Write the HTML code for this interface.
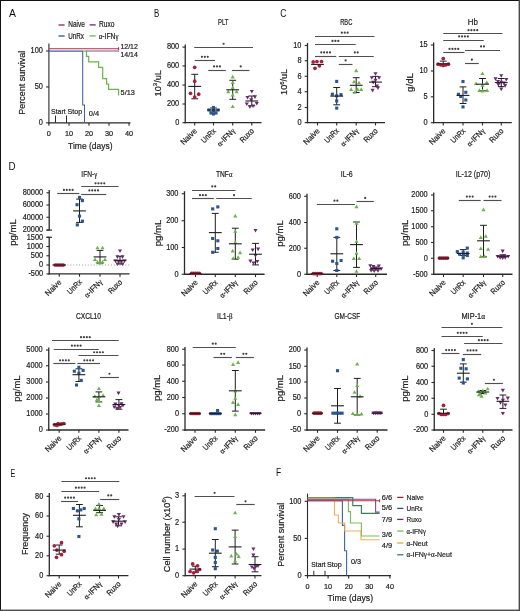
<!DOCTYPE html><html><head><meta charset="utf-8"><title>Figure</title><style>html,body{margin:0;padding:0;background:#fff;width:520px;height:611px;overflow:hidden}svg{display:block;will-change:transform;font-family:"Liberation Sans", sans-serif}text{stroke:#222;stroke-width:0.2px}text.pl{stroke:none}</style></head><body>
<svg width="520" height="611" viewBox="0 0 520 611">
<rect width="520" height="611" fill="#fff"/>
<text transform="translate(8.95 16.6) scale(0.9674 1)" font-size="10.8" fill="#111" class="pl">A</text>
<text transform="translate(154.05 16.5) scale(0.7380 1)" font-size="10.8" fill="#111" class="pl">B</text>
<text transform="translate(280.25 16.7) scale(0.7845 1)" font-size="10.8" fill="#111" class="pl">C</text>
<text transform="translate(8.55 169.9) scale(0.9131 1)" font-size="10.8" fill="#111" class="pl">D</text>
<text transform="translate(10.55 476.5) scale(0.6544 1)" font-size="10.8" fill="#111" class="pl">E</text>
<text transform="translate(276.05 476.4) scale(0.7893 1)" font-size="10.8" fill="#111" class="pl">F</text>
<line x1="58.5" y1="25" x2="64.6" y2="25" stroke="#ab1d3b" stroke-width="1.3"/>
<text transform="translate(68.2 27.1) scale(0.7923 1)" font-size="8.2" fill="#222">Naive</text>
<line x1="89.6" y1="24.9" x2="95.7" y2="24.9" stroke="#6b2b6e" stroke-width="1.3"/>
<text transform="translate(99 27.1) scale(0.8095 1)" font-size="8.2" fill="#222">Ruxo</text>
<line x1="58.5" y1="36" x2="64.6" y2="36" stroke="#2a5592" stroke-width="1.3"/>
<text transform="translate(68.2 38.6) scale(0.7707 1)" font-size="8.2" fill="#222">UnRx</text>
<line x1="89.6" y1="35.9" x2="95.7" y2="35.9" stroke="#6cb24d" stroke-width="1.3"/>
<text transform="translate(98.8 38.6) scale(0.8238 1)" font-size="8.2" fill="#222"><tspan font-family="Liberation Serif">&#945;</tspan>-IFN<tspan font-family="Liberation Serif">&#947;</tspan></text>
<line x1="48.9" y1="43.6" x2="48.9" y2="123.45" stroke="#2a2a2a" stroke-width="1.1"/>
<line x1="48.35" y1="122.9" x2="130.5" y2="122.9" stroke="#2a2a2a" stroke-width="1.1"/>
<line x1="46.1" y1="51" x2="48.9" y2="51" stroke="#2a2a2a" stroke-width="1.1"/>
<text x="42.9" y="53.35" font-size="8.4" text-anchor="end" fill="#222" textLength="12.33" lengthAdjust="spacingAndGlyphs">100</text>
<line x1="46.1" y1="86.95" x2="48.9" y2="86.95" stroke="#2a2a2a" stroke-width="1.1"/>
<text x="42.9" y="89.3" font-size="8.4" text-anchor="end" fill="#222" textLength="8.22" lengthAdjust="spacingAndGlyphs">50</text>
<line x1="46.1" y1="122.9" x2="48.9" y2="122.9" stroke="#2a2a2a" stroke-width="1.1"/>
<text x="42.9" y="125.25" font-size="8.4" text-anchor="end" fill="#222" textLength="4.11" lengthAdjust="spacingAndGlyphs">0</text>
<line x1="48.9" y1="122.9" x2="48.9" y2="125.7" stroke="#2a2a2a" stroke-width="1.1"/>
<text x="48.9" y="135.8" font-size="7.3" text-anchor="middle" fill="#222">0</text>
<line x1="69" y1="122.9" x2="69" y2="125.7" stroke="#2a2a2a" stroke-width="1.1"/>
<text x="69" y="135.8" font-size="7.3" text-anchor="middle" fill="#222">10</text>
<line x1="89" y1="122.9" x2="89" y2="125.7" stroke="#2a2a2a" stroke-width="1.1"/>
<text x="89" y="135.8" font-size="7.3" text-anchor="middle" fill="#222">20</text>
<line x1="109" y1="122.9" x2="109" y2="125.7" stroke="#2a2a2a" stroke-width="1.1"/>
<text x="109" y="135.8" font-size="7.3" text-anchor="middle" fill="#222">30</text>
<line x1="129" y1="122.9" x2="129" y2="125.7" stroke="#2a2a2a" stroke-width="1.1"/>
<text x="129" y="135.8" font-size="7.3" text-anchor="middle" fill="#222">40</text>
<text x="90.3" y="148.7" font-size="9.2" text-anchor="middle" fill="#222" textLength="44.5" lengthAdjust="spacingAndGlyphs">Time (days)</text>
<text transform="translate(24.7 82.7) rotate(-90)" x="0" y="0" font-size="9.2" text-anchor="middle" fill="#222" textLength="64" lengthAdjust="spacingAndGlyphs">Percent survival</text>
<path d="M49 51.1H82.7V105H84.5V122.9" fill="none" stroke="#3f63a0" stroke-width="1.05"/>
<path d="M86 50.9H118.6V51.8" fill="none" stroke="#7d5588" stroke-width="1.05"/>
<path d="M49 48.8H118.6M118.6 47.3V50" fill="none" stroke="#bb2d47" stroke-width="1.1"/>
<path d="M83.2 51.1H86.5V56.3H88.7V61.9H98.6V67.3H102.7V78.6H106.6V84.2H108.6V89.3H118.6V95.5" fill="none" stroke="#6cb24d" stroke-width="1.2"/>
<line x1="55.5" y1="115.5" x2="55.5" y2="122.9" stroke="#2a2a2a" stroke-width="1"/>
<line x1="66.5" y1="115.5" x2="66.5" y2="122.9" stroke="#2a2a2a" stroke-width="1"/>
<text x="51.1" y="113.5" font-size="7.6" text-anchor="start" fill="#222" textLength="14.6" lengthAdjust="spacingAndGlyphs">Start</text>
<text x="67.5" y="113.5" font-size="7.6" text-anchor="start" fill="#222" textLength="14.6" lengthAdjust="spacingAndGlyphs">Stop</text>
<text x="88.8" y="115.7" font-size="7.6" text-anchor="start" fill="#222" textLength="10.4" lengthAdjust="spacingAndGlyphs">0/4</text>
<text x="120.4" y="48.9" font-size="7.3" text-anchor="start" fill="#222" textLength="17.5" lengthAdjust="spacingAndGlyphs">12/12</text>
<text x="120.4" y="56.5" font-size="7.3" text-anchor="start" fill="#222" textLength="17.5" lengthAdjust="spacingAndGlyphs">14/14</text>
<text x="120.6" y="95.3" font-size="7.6" text-anchor="start" fill="#222" textLength="14.2" lengthAdjust="spacingAndGlyphs">5/13</text>
<line x1="185.25" y1="44.4" x2="185.25" y2="123.35" stroke="#2a2a2a" stroke-width="1.3"/>
<line x1="184.6" y1="122.7" x2="261.5" y2="122.7" stroke="#2a2a2a" stroke-width="1.3"/>
<line x1="182.45" y1="47.1" x2="185.25" y2="47.1" stroke="#2a2a2a" stroke-width="1.1"/>
<text x="179.25" y="49.45" font-size="8.4" text-anchor="end" fill="#222" textLength="12.33" lengthAdjust="spacingAndGlyphs">800</text>
<line x1="182.45" y1="65.9" x2="185.25" y2="65.9" stroke="#2a2a2a" stroke-width="1.1"/>
<text x="179.25" y="68.25" font-size="8.4" text-anchor="end" fill="#222" textLength="12.33" lengthAdjust="spacingAndGlyphs">600</text>
<line x1="182.45" y1="85" x2="185.25" y2="85" stroke="#2a2a2a" stroke-width="1.1"/>
<text x="179.25" y="87.35" font-size="8.4" text-anchor="end" fill="#222" textLength="12.33" lengthAdjust="spacingAndGlyphs">400</text>
<line x1="182.45" y1="104" x2="185.25" y2="104" stroke="#2a2a2a" stroke-width="1.1"/>
<text x="179.25" y="106.35" font-size="8.4" text-anchor="end" fill="#222" textLength="12.33" lengthAdjust="spacingAndGlyphs">200</text>
<line x1="182.45" y1="122.7" x2="185.25" y2="122.7" stroke="#2a2a2a" stroke-width="1.1"/>
<text x="179.25" y="125.05" font-size="8.4" text-anchor="end" fill="#222" textLength="4.11" lengthAdjust="spacingAndGlyphs">0</text>
<line x1="194.7" y1="122.7" x2="194.7" y2="125.5" stroke="#2a2a2a" stroke-width="1.1"/>
<text transform="translate(197.5 131.5) rotate(-45)" x="0" y="0" font-size="8" text-anchor="end" fill="#222" textLength="19.5" lengthAdjust="spacingAndGlyphs">Naive</text>
<line x1="213.5" y1="122.7" x2="213.5" y2="125.5" stroke="#2a2a2a" stroke-width="1.1"/>
<text transform="translate(216.3 131.5) rotate(-45)" x="0" y="0" font-size="8" text-anchor="end" fill="#222" textLength="17" lengthAdjust="spacingAndGlyphs">UnRx</text>
<line x1="232.7" y1="122.7" x2="232.7" y2="125.5" stroke="#2a2a2a" stroke-width="1.1"/>
<text transform="translate(235.5 131.5) rotate(-45)" x="0" y="0" font-size="8" text-anchor="end" fill="#222" textLength="22" lengthAdjust="spacingAndGlyphs"><tspan font-family="Liberation Serif">&#945;</tspan>-IFN<tspan font-family="Liberation Serif">&#947;</tspan></text>
<line x1="251.8" y1="122.7" x2="251.8" y2="125.5" stroke="#2a2a2a" stroke-width="1.1"/>
<text transform="translate(254.6 131.5) rotate(-45)" x="0" y="0" font-size="8" text-anchor="end" fill="#222" textLength="16.5" lengthAdjust="spacingAndGlyphs">Ruxo</text>
<text transform="translate(218 24.6) scale(0.7188 1)" font-size="8.3" fill="#222" class="tt">PLT</text>
<text transform="translate(160.5 83.2) rotate(-90)" x="0" y="0" font-size="9.2" text-anchor="middle" fill="#222" textLength="26.4" lengthAdjust="spacingAndGlyphs">10<tspan font-size="6" dy="-3.4">3</tspan><tspan dy="3.4">/uL</tspan></text>
<line x1="194.2" y1="47.5" x2="253" y2="47.5" stroke="#505050" stroke-width="1.15"/>
<circle cx="223.6" cy="43.75" r="1.1" fill="#404040"/>
<line x1="194.7" y1="60.5" x2="215" y2="60.5" stroke="#505050" stroke-width="1.15"/>
<circle cx="201.95" cy="56.85" r="1.1" fill="#404040"/>
<circle cx="204.85" cy="56.85" r="1.1" fill="#404040"/>
<circle cx="207.75" cy="56.85" r="1.1" fill="#404040"/>
<line x1="208.2" y1="70.5" x2="225.8" y2="70.5" stroke="#505050" stroke-width="1.15"/>
<circle cx="214.1" cy="66.45" r="1.1" fill="#404040"/>
<circle cx="217" cy="66.45" r="1.1" fill="#404040"/>
<circle cx="219.9" cy="66.45" r="1.1" fill="#404040"/>
<line x1="231.9" y1="70.5" x2="249.5" y2="70.5" stroke="#505050" stroke-width="1.15"/>
<circle cx="240.7" cy="66.45" r="1.1" fill="#404040"/>
<line x1="194.7" y1="74.3" x2="194.7" y2="98.8" stroke="#1e1e1e" stroke-width="1"/>
<line x1="191.3" y1="74.3" x2="198.1" y2="74.3" stroke="#1e1e1e" stroke-width="1"/>
<line x1="191.3" y1="98.8" x2="198.1" y2="98.8" stroke="#1e1e1e" stroke-width="1"/>
<line x1="213.5" y1="108" x2="213.5" y2="112" stroke="#1e1e1e" stroke-width="1"/>
<line x1="210.1" y1="108" x2="216.9" y2="108" stroke="#1e1e1e" stroke-width="1"/>
<line x1="210.1" y1="112" x2="216.9" y2="112" stroke="#1e1e1e" stroke-width="1"/>
<line x1="232.7" y1="80.3" x2="232.7" y2="99.3" stroke="#1e1e1e" stroke-width="1"/>
<line x1="229.3" y1="80.3" x2="236.1" y2="80.3" stroke="#1e1e1e" stroke-width="1"/>
<line x1="229.3" y1="99.3" x2="236.1" y2="99.3" stroke="#1e1e1e" stroke-width="1"/>
<line x1="251.8" y1="96" x2="251.8" y2="105.8" stroke="#1e1e1e" stroke-width="1"/>
<line x1="248.4" y1="96" x2="255.2" y2="96" stroke="#1e1e1e" stroke-width="1"/>
<line x1="248.4" y1="105.8" x2="255.2" y2="105.8" stroke="#1e1e1e" stroke-width="1"/>
<circle cx="194.7" cy="67.3" r="1.85" fill="#ab1d3b"/>
<circle cx="194.7" cy="81.2" r="1.85" fill="#ab1d3b"/>
<circle cx="190.5" cy="93.3" r="1.85" fill="#ab1d3b"/>
<circle cx="198.7" cy="94.2" r="1.85" fill="#ab1d3b"/>
<circle cx="194.7" cy="97.1" r="1.85" fill="#ab1d3b"/>
<rect x="211.95" y="105.95" width="3.1" height="3.1" fill="#2a5592"/>
<rect x="207.45" y="108.45" width="3.1" height="3.1" fill="#2a5592"/>
<rect x="216.45" y="108.45" width="3.1" height="3.1" fill="#2a5592"/>
<rect x="211.95" y="108.95" width="3.1" height="3.1" fill="#2a5592"/>
<rect x="209.45" y="111.45" width="3.1" height="3.1" fill="#2a5592"/>
<rect x="214.45" y="111.45" width="3.1" height="3.1" fill="#2a5592"/>
<rect x="211.95" y="112.45" width="3.1" height="3.1" fill="#2a5592"/>
<path d="M232.7 74.8L234.75 78.4L230.65 78.4Z" fill="#6cb24d"/>
<path d="M232.7 80.4L234.75 84L230.65 84Z" fill="#6cb24d"/>
<path d="M232.7 85.6L234.75 89.2L230.65 89.2Z" fill="#6cb24d"/>
<path d="M228.3 89.6L230.35 93.2L226.25 93.2Z" fill="#6cb24d"/>
<path d="M236.6 89.6L238.65 93.2L234.55 93.2Z" fill="#6cb24d"/>
<path d="M232.7 93L234.75 96.6L230.65 96.6Z" fill="#6cb24d"/>
<path d="M232.7 104.5L234.75 108.1L230.65 108.1Z" fill="#6cb24d"/>
<path d="M251.8 93.6L253.85 90L249.75 90Z" fill="#6b2b6e"/>
<path d="M247.5 99.5L249.55 95.9L245.45 95.9Z" fill="#6b2b6e"/>
<path d="M255 98.9L257.05 95.3L252.95 95.3Z" fill="#6b2b6e"/>
<path d="M251.2 101.75L253.25 98.15L249.15 98.15Z" fill="#6b2b6e"/>
<path d="M246.8 106L248.85 102.4L244.75 102.4Z" fill="#6b2b6e"/>
<path d="M256.8 105.5L258.85 101.9L254.75 101.9Z" fill="#6b2b6e"/>
<path d="M249.9 108.9L251.95 105.3L247.85 105.3Z" fill="#6b2b6e"/>
<path d="M253 108L255.05 104.4L250.95 104.4Z" fill="#6b2b6e"/>
<line x1="188.3" y1="86.4" x2="201.1" y2="86.4" stroke="#1e1e1e" stroke-width="1.1"/>
<line x1="207.1" y1="110" x2="219.9" y2="110" stroke="#1e1e1e" stroke-width="1.1"/>
<line x1="226.3" y1="89.8" x2="239.1" y2="89.8" stroke="#1e1e1e" stroke-width="1.1"/>
<line x1="245.4" y1="101" x2="258.2" y2="101" stroke="#1e1e1e" stroke-width="1.1"/>
<line x1="307.5" y1="43" x2="307.5" y2="123.25" stroke="#2a2a2a" stroke-width="1.3"/>
<line x1="306.85" y1="122.6" x2="385" y2="122.6" stroke="#2a2a2a" stroke-width="1.3"/>
<line x1="304.7" y1="45.5" x2="307.5" y2="45.5" stroke="#2a2a2a" stroke-width="1.1"/>
<text x="301.5" y="47.85" font-size="8.4" text-anchor="end" fill="#222" textLength="8.22" lengthAdjust="spacingAndGlyphs">10</text>
<line x1="304.7" y1="60.75" x2="307.5" y2="60.75" stroke="#2a2a2a" stroke-width="1.1"/>
<text x="301.5" y="63.1" font-size="8.4" text-anchor="end" fill="#222" textLength="4.11" lengthAdjust="spacingAndGlyphs">8</text>
<line x1="304.7" y1="76.25" x2="307.5" y2="76.25" stroke="#2a2a2a" stroke-width="1.1"/>
<text x="301.5" y="78.6" font-size="8.4" text-anchor="end" fill="#222" textLength="4.11" lengthAdjust="spacingAndGlyphs">6</text>
<line x1="304.7" y1="91.75" x2="307.5" y2="91.75" stroke="#2a2a2a" stroke-width="1.1"/>
<text x="301.5" y="94.1" font-size="8.4" text-anchor="end" fill="#222" textLength="4.11" lengthAdjust="spacingAndGlyphs">4</text>
<line x1="304.7" y1="107.5" x2="307.5" y2="107.5" stroke="#2a2a2a" stroke-width="1.1"/>
<text x="301.5" y="109.85" font-size="8.4" text-anchor="end" fill="#222" textLength="4.11" lengthAdjust="spacingAndGlyphs">2</text>
<line x1="304.7" y1="122.6" x2="307.5" y2="122.6" stroke="#2a2a2a" stroke-width="1.1"/>
<text x="301.5" y="124.95" font-size="8.4" text-anchor="end" fill="#222" textLength="4.11" lengthAdjust="spacingAndGlyphs">0</text>
<line x1="317.5" y1="122.6" x2="317.5" y2="125.4" stroke="#2a2a2a" stroke-width="1.1"/>
<text transform="translate(320.3 131.4) rotate(-45)" x="0" y="0" font-size="8" text-anchor="end" fill="#222" textLength="19.5" lengthAdjust="spacingAndGlyphs">Naive</text>
<line x1="336.7" y1="122.6" x2="336.7" y2="125.4" stroke="#2a2a2a" stroke-width="1.1"/>
<text transform="translate(339.5 131.4) rotate(-45)" x="0" y="0" font-size="8" text-anchor="end" fill="#222" textLength="17" lengthAdjust="spacingAndGlyphs">UnRx</text>
<line x1="356.2" y1="122.6" x2="356.2" y2="125.4" stroke="#2a2a2a" stroke-width="1.1"/>
<text transform="translate(359 131.4) rotate(-45)" x="0" y="0" font-size="8" text-anchor="end" fill="#222" textLength="22" lengthAdjust="spacingAndGlyphs"><tspan font-family="Liberation Serif">&#945;</tspan>-IFN<tspan font-family="Liberation Serif">&#947;</tspan></text>
<line x1="375.5" y1="122.6" x2="375.5" y2="125.4" stroke="#2a2a2a" stroke-width="1.1"/>
<text transform="translate(378.3 131.4) rotate(-45)" x="0" y="0" font-size="8" text-anchor="end" fill="#222" textLength="16.5" lengthAdjust="spacingAndGlyphs">Ruxo</text>
<text transform="translate(340.2 24.6) scale(0.6909 1)" font-size="8.3" fill="#222" class="tt">RBC</text>
<text transform="translate(287.2 81.9) rotate(-90)" x="0" y="0" font-size="9.2" text-anchor="middle" fill="#222" textLength="26" lengthAdjust="spacingAndGlyphs">10<tspan font-size="6" dy="-3.4">6</tspan><tspan dy="3.4">/uL</tspan></text>
<line x1="315" y1="36.5" x2="374.5" y2="36.5" stroke="#505050" stroke-width="1.15"/>
<circle cx="341.85" cy="32.7" r="1.1" fill="#404040"/>
<circle cx="344.75" cy="32.7" r="1.1" fill="#404040"/>
<circle cx="347.65" cy="32.7" r="1.1" fill="#404040"/>
<line x1="315" y1="44.5" x2="355.75" y2="44.5" stroke="#505050" stroke-width="1.15"/>
<circle cx="332.48" cy="40.95" r="1.1" fill="#404040"/>
<circle cx="335.38" cy="40.95" r="1.1" fill="#404040"/>
<circle cx="338.28" cy="40.95" r="1.1" fill="#404040"/>
<line x1="315" y1="56.5" x2="336.25" y2="56.5" stroke="#505050" stroke-width="1.15"/>
<circle cx="321.27" cy="52.45" r="1.1" fill="#404040"/>
<circle cx="324.17" cy="52.45" r="1.1" fill="#404040"/>
<circle cx="327.07" cy="52.45" r="1.1" fill="#404040"/>
<circle cx="329.97" cy="52.45" r="1.1" fill="#404040"/>
<line x1="338.75" y1="56.5" x2="373.75" y2="56.5" stroke="#505050" stroke-width="1.15"/>
<circle cx="354.8" cy="52.45" r="1.1" fill="#404040"/>
<circle cx="357.7" cy="52.45" r="1.1" fill="#404040"/>
<line x1="338.75" y1="64.5" x2="352.5" y2="64.5" stroke="#505050" stroke-width="1.15"/>
<circle cx="345.62" cy="60.45" r="1.1" fill="#404040"/>
<line x1="336.7" y1="87.5" x2="336.7" y2="104.8" stroke="#1e1e1e" stroke-width="1"/>
<line x1="333.3" y1="87.5" x2="340.1" y2="87.5" stroke="#1e1e1e" stroke-width="1"/>
<line x1="333.3" y1="104.8" x2="340.1" y2="104.8" stroke="#1e1e1e" stroke-width="1"/>
<line x1="356.2" y1="77.7" x2="356.2" y2="92.5" stroke="#1e1e1e" stroke-width="1"/>
<line x1="352.8" y1="77.7" x2="359.6" y2="77.7" stroke="#1e1e1e" stroke-width="1"/>
<line x1="352.8" y1="92.5" x2="359.6" y2="92.5" stroke="#1e1e1e" stroke-width="1"/>
<line x1="375.5" y1="76.4" x2="375.5" y2="86.7" stroke="#1e1e1e" stroke-width="1"/>
<line x1="372.1" y1="76.4" x2="378.9" y2="76.4" stroke="#1e1e1e" stroke-width="1"/>
<line x1="372.1" y1="86.7" x2="378.9" y2="86.7" stroke="#1e1e1e" stroke-width="1"/>
<circle cx="313.2" cy="61.9" r="1.85" fill="#ab1d3b"/>
<circle cx="316.9" cy="61.5" r="1.85" fill="#ab1d3b"/>
<circle cx="321.5" cy="61.5" r="1.85" fill="#ab1d3b"/>
<circle cx="319.4" cy="65.8" r="1.85" fill="#ab1d3b"/>
<circle cx="315" cy="68.3" r="1.85" fill="#ab1d3b"/>
<rect x="335.15" y="79.85" width="3.1" height="3.1" fill="#2a5592"/>
<rect x="330.85" y="92.65" width="3.1" height="3.1" fill="#2a5592"/>
<rect x="335.15" y="94.25" width="3.1" height="3.1" fill="#2a5592"/>
<rect x="339.45" y="93.15" width="3.1" height="3.1" fill="#2a5592"/>
<rect x="335.15" y="99.35" width="3.1" height="3.1" fill="#2a5592"/>
<rect x="335.15" y="106.55" width="3.1" height="3.1" fill="#2a5592"/>
<path d="M356.2 68.6L358.25 72.2L354.15 72.2Z" fill="#6cb24d"/>
<path d="M354 79.7L356.05 83.3L351.95 83.3Z" fill="#6cb24d"/>
<path d="M359 80.7L361.05 84.3L356.95 84.3Z" fill="#6cb24d"/>
<path d="M351.2 87.3L353.25 90.9L349.15 90.9Z" fill="#6cb24d"/>
<path d="M357.6 87.3L359.65 90.9L355.55 90.9Z" fill="#6cb24d"/>
<path d="M361.2 87.3L363.25 90.9L359.15 90.9Z" fill="#6cb24d"/>
<path d="M354.7 90.2L356.75 93.8L352.65 93.8Z" fill="#6cb24d"/>
<path d="M375.5 75.8L377.55 72.2L373.45 72.2Z" fill="#6b2b6e"/>
<path d="M371.8 79.8L373.85 76.2L369.75 76.2Z" fill="#6b2b6e"/>
<path d="M379.1 79.8L381.15 76.2L377.05 76.2Z" fill="#6b2b6e"/>
<path d="M375.5 82.3L377.55 78.7L373.45 78.7Z" fill="#6b2b6e"/>
<path d="M373.2 84.4L375.25 80.8L371.15 80.8Z" fill="#6b2b6e"/>
<path d="M376.9 88L378.95 84.4L374.85 84.4Z" fill="#6b2b6e"/>
<path d="M372.6 92.4L374.65 88.8L370.55 88.8Z" fill="#6b2b6e"/>
<path d="M378 90L380.05 86.4L375.95 86.4Z" fill="#6b2b6e"/>
<line x1="311.1" y1="64.4" x2="323.9" y2="64.4" stroke="#1e1e1e" stroke-width="1.1"/>
<line x1="330.3" y1="96.1" x2="343.1" y2="96.1" stroke="#1e1e1e" stroke-width="1.1"/>
<line x1="349.8" y1="85.3" x2="362.6" y2="85.3" stroke="#1e1e1e" stroke-width="1.1"/>
<line x1="369.1" y1="82.1" x2="381.9" y2="82.1" stroke="#1e1e1e" stroke-width="1.1"/>
<line x1="433.65" y1="42.5" x2="433.65" y2="123.35" stroke="#2a2a2a" stroke-width="1.3"/>
<line x1="433" y1="122.7" x2="511.75" y2="122.7" stroke="#2a2a2a" stroke-width="1.3"/>
<line x1="430.85" y1="45" x2="433.65" y2="45" stroke="#2a2a2a" stroke-width="1.1"/>
<text x="427.65" y="47.35" font-size="8.4" text-anchor="end" fill="#222" textLength="8.22" lengthAdjust="spacingAndGlyphs">15</text>
<line x1="430.85" y1="71" x2="433.65" y2="71" stroke="#2a2a2a" stroke-width="1.1"/>
<text x="427.65" y="73.35" font-size="8.4" text-anchor="end" fill="#222" textLength="8.22" lengthAdjust="spacingAndGlyphs">10</text>
<line x1="430.85" y1="96.8" x2="433.65" y2="96.8" stroke="#2a2a2a" stroke-width="1.1"/>
<text x="427.65" y="99.15" font-size="8.4" text-anchor="end" fill="#222" textLength="4.11" lengthAdjust="spacingAndGlyphs">5</text>
<line x1="430.85" y1="122.7" x2="433.65" y2="122.7" stroke="#2a2a2a" stroke-width="1.1"/>
<text x="427.65" y="125.05" font-size="8.4" text-anchor="end" fill="#222" textLength="4.11" lengthAdjust="spacingAndGlyphs">0</text>
<line x1="443.25" y1="122.7" x2="443.25" y2="125.5" stroke="#2a2a2a" stroke-width="1.1"/>
<text transform="translate(446.05 131.5) rotate(-45)" x="0" y="0" font-size="8" text-anchor="end" fill="#222" textLength="19.5" lengthAdjust="spacingAndGlyphs">Naive</text>
<line x1="463" y1="122.7" x2="463" y2="125.5" stroke="#2a2a2a" stroke-width="1.1"/>
<text transform="translate(465.8 131.5) rotate(-45)" x="0" y="0" font-size="8" text-anchor="end" fill="#222" textLength="17" lengthAdjust="spacingAndGlyphs">UnRx</text>
<line x1="482.5" y1="122.7" x2="482.5" y2="125.5" stroke="#2a2a2a" stroke-width="1.1"/>
<text transform="translate(485.3 131.5) rotate(-45)" x="0" y="0" font-size="8" text-anchor="end" fill="#222" textLength="22" lengthAdjust="spacingAndGlyphs"><tspan font-family="Liberation Serif">&#945;</tspan>-IFN<tspan font-family="Liberation Serif">&#947;</tspan></text>
<line x1="501.25" y1="122.7" x2="501.25" y2="125.5" stroke="#2a2a2a" stroke-width="1.1"/>
<text transform="translate(504.05 131.5) rotate(-45)" x="0" y="0" font-size="8" text-anchor="end" fill="#222" textLength="16.5" lengthAdjust="spacingAndGlyphs">Ruxo</text>
<text transform="translate(467.7 24.6) scale(0.9507 1)" font-size="8.3" fill="#222" class="tt">Hb</text>
<text transform="translate(413.3 82.5) rotate(-90)" x="0" y="0" font-size="9.2" text-anchor="middle" fill="#222" textLength="18.8" lengthAdjust="spacingAndGlyphs">g/dL</text>
<line x1="443.25" y1="33.5" x2="502.5" y2="33.5" stroke="#505050" stroke-width="1.15"/>
<circle cx="468.52" cy="30.2" r="1.1" fill="#404040"/>
<circle cx="471.42" cy="30.2" r="1.1" fill="#404040"/>
<circle cx="474.32" cy="30.2" r="1.1" fill="#404040"/>
<circle cx="477.22" cy="30.2" r="1.1" fill="#404040"/>
<line x1="443.25" y1="40.5" x2="483.75" y2="40.5" stroke="#505050" stroke-width="1.15"/>
<circle cx="459.15" cy="36.45" r="1.1" fill="#404040"/>
<circle cx="462.05" cy="36.45" r="1.1" fill="#404040"/>
<circle cx="464.95" cy="36.45" r="1.1" fill="#404040"/>
<circle cx="467.85" cy="36.45" r="1.1" fill="#404040"/>
<line x1="443.25" y1="52.5" x2="464.5" y2="52.5" stroke="#505050" stroke-width="1.15"/>
<circle cx="449.52" cy="48.95" r="1.1" fill="#404040"/>
<circle cx="452.42" cy="48.95" r="1.1" fill="#404040"/>
<circle cx="455.32" cy="48.95" r="1.1" fill="#404040"/>
<circle cx="458.22" cy="48.95" r="1.1" fill="#404040"/>
<line x1="465" y1="50.5" x2="500" y2="50.5" stroke="#505050" stroke-width="1.15"/>
<circle cx="481.05" cy="46.45" r="1.1" fill="#404040"/>
<circle cx="483.95" cy="46.45" r="1.1" fill="#404040"/>
<line x1="465" y1="63.5" x2="478.75" y2="63.5" stroke="#505050" stroke-width="1.15"/>
<circle cx="471.88" cy="59.7" r="1.1" fill="#404040"/>
<line x1="443.25" y1="61.1" x2="443.25" y2="65.4" stroke="#1e1e1e" stroke-width="1"/>
<line x1="439.85" y1="61.1" x2="446.65" y2="61.1" stroke="#1e1e1e" stroke-width="1"/>
<line x1="439.85" y1="65.4" x2="446.65" y2="65.4" stroke="#1e1e1e" stroke-width="1"/>
<line x1="463" y1="86.9" x2="463" y2="103.5" stroke="#1e1e1e" stroke-width="1"/>
<line x1="459.6" y1="86.9" x2="466.4" y2="86.9" stroke="#1e1e1e" stroke-width="1"/>
<line x1="459.6" y1="103.5" x2="466.4" y2="103.5" stroke="#1e1e1e" stroke-width="1"/>
<line x1="482.5" y1="78.5" x2="482.5" y2="90.8" stroke="#1e1e1e" stroke-width="1"/>
<line x1="479.1" y1="78.5" x2="485.9" y2="78.5" stroke="#1e1e1e" stroke-width="1"/>
<line x1="479.1" y1="90.8" x2="485.9" y2="90.8" stroke="#1e1e1e" stroke-width="1"/>
<line x1="501.25" y1="78.5" x2="501.25" y2="86.6" stroke="#1e1e1e" stroke-width="1"/>
<line x1="497.85" y1="78.5" x2="504.65" y2="78.5" stroke="#1e1e1e" stroke-width="1"/>
<line x1="497.85" y1="86.6" x2="504.65" y2="86.6" stroke="#1e1e1e" stroke-width="1"/>
<circle cx="443.25" cy="58.5" r="1.85" fill="#ab1d3b"/>
<circle cx="438.05" cy="64.2" r="1.85" fill="#ab1d3b"/>
<circle cx="440.65" cy="64.8" r="1.85" fill="#ab1d3b"/>
<circle cx="443.25" cy="65.4" r="1.85" fill="#ab1d3b"/>
<circle cx="445.85" cy="64.8" r="1.85" fill="#ab1d3b"/>
<circle cx="448.45" cy="64.2" r="1.85" fill="#ab1d3b"/>
<rect x="461.45" y="79.95" width="3.1" height="3.1" fill="#2a5592"/>
<rect x="464.25" y="90.75" width="3.1" height="3.1" fill="#2a5592"/>
<rect x="456.85" y="92.75" width="3.1" height="3.1" fill="#2a5592"/>
<rect x="459.15" y="94.95" width="3.1" height="3.1" fill="#2a5592"/>
<rect x="464.25" y="98.45" width="3.1" height="3.1" fill="#2a5592"/>
<rect x="461.45" y="105.35" width="3.1" height="3.1" fill="#2a5592"/>
<path d="M482.5 71.5L484.55 75.1L480.45 75.1Z" fill="#6cb24d"/>
<path d="M476 81.5L478.05 85.1L473.95 85.1Z" fill="#6cb24d"/>
<path d="M486.8 80.3L488.85 83.9L484.75 83.9Z" fill="#6cb24d"/>
<path d="M482.5 83.1L484.55 86.7L480.45 86.7Z" fill="#6cb24d"/>
<path d="M479.4 88.3L481.45 91.9L477.35 91.9Z" fill="#6cb24d"/>
<path d="M487.1 88.3L489.15 91.9L485.05 91.9Z" fill="#6cb24d"/>
<path d="M482.5 88.8L484.55 92.4L480.45 92.4Z" fill="#6cb24d"/>
<path d="M501.25 77.8L503.3 74.2L499.2 74.2Z" fill="#6b2b6e"/>
<path d="M495.55 80.9L497.6 77.3L493.5 77.3Z" fill="#6b2b6e"/>
<path d="M506.35 81.5L508.4 77.9L504.3 77.9Z" fill="#6b2b6e"/>
<path d="M497.95 83.5L500 79.9L495.9 79.9Z" fill="#6b2b6e"/>
<path d="M501.25 84.3L503.3 80.7L499.2 80.7Z" fill="#6b2b6e"/>
<path d="M504.05 85L506.1 81.4L502 81.4Z" fill="#6b2b6e"/>
<path d="M498.35 86.6L500.4 83L496.3 83Z" fill="#6b2b6e"/>
<path d="M505.15 87.7L507.2 84.1L503.1 84.1Z" fill="#6b2b6e"/>
<path d="M501.25 91.2L503.3 87.6L499.2 87.6Z" fill="#6b2b6e"/>
<line x1="436.85" y1="63.8" x2="449.65" y2="63.8" stroke="#1e1e1e" stroke-width="1.1"/>
<line x1="456.6" y1="95.4" x2="469.4" y2="95.4" stroke="#1e1e1e" stroke-width="1.1"/>
<line x1="476.1" y1="84.2" x2="488.9" y2="84.2" stroke="#1e1e1e" stroke-width="1.1"/>
<line x1="494.85" y1="82.6" x2="507.65" y2="82.6" stroke="#1e1e1e" stroke-width="1.1"/>
<line x1="49.2" y1="190" x2="49.2" y2="230.1" stroke="#2a2a2a" stroke-width="1.3"/>
<line x1="49.2" y1="237.3" x2="49.2" y2="274.55" stroke="#2a2a2a" stroke-width="1.3"/>
<line x1="46.6" y1="230.1" x2="52" y2="230.1" stroke="#2a2a2a" stroke-width="1.2"/>
<line x1="46.6" y1="237.3" x2="52" y2="237.3" stroke="#2a2a2a" stroke-width="1.2"/>
<line x1="48.55" y1="273.9" x2="129.5" y2="273.9" stroke="#2a2a2a" stroke-width="1.3"/>
<line x1="46.4" y1="192.75" x2="49.2" y2="192.75" stroke="#2a2a2a" stroke-width="1.1"/>
<text x="43.2" y="195.1" font-size="8.4" text-anchor="end" fill="#222" textLength="20.56" lengthAdjust="spacingAndGlyphs">80000</text>
<line x1="46.4" y1="205" x2="49.2" y2="205" stroke="#2a2a2a" stroke-width="1.1"/>
<text x="43.2" y="207.35" font-size="8.4" text-anchor="end" fill="#222" textLength="20.56" lengthAdjust="spacingAndGlyphs">60000</text>
<line x1="46.4" y1="217.25" x2="49.2" y2="217.25" stroke="#2a2a2a" stroke-width="1.1"/>
<text x="43.2" y="219.6" font-size="8.4" text-anchor="end" fill="#222" textLength="20.56" lengthAdjust="spacingAndGlyphs">40000</text>
<line x1="46.4" y1="230.1" x2="49.2" y2="230.1" stroke="#2a2a2a" stroke-width="1.1"/>
<text x="43.2" y="232.45" font-size="8.4" text-anchor="end" fill="#222" textLength="20.56" lengthAdjust="spacingAndGlyphs">20000</text>
<line x1="46.4" y1="237.3" x2="49.2" y2="237.3" stroke="#2a2a2a" stroke-width="1.1"/>
<text x="43.2" y="239.65" font-size="8.4" text-anchor="end" fill="#222" textLength="16.44" lengthAdjust="spacingAndGlyphs">1500</text>
<line x1="46.4" y1="246.5" x2="49.2" y2="246.5" stroke="#2a2a2a" stroke-width="1.1"/>
<text x="43.2" y="248.85" font-size="8.4" text-anchor="end" fill="#222" textLength="16.44" lengthAdjust="spacingAndGlyphs">1000</text>
<line x1="46.4" y1="255.75" x2="49.2" y2="255.75" stroke="#2a2a2a" stroke-width="1.1"/>
<text x="43.2" y="258.1" font-size="8.4" text-anchor="end" fill="#222" textLength="12.33" lengthAdjust="spacingAndGlyphs">500</text>
<line x1="46.4" y1="265" x2="49.2" y2="265" stroke="#2a2a2a" stroke-width="1.1"/>
<text x="43.2" y="267.35" font-size="8.4" text-anchor="end" fill="#222" textLength="4.11" lengthAdjust="spacingAndGlyphs">0</text>
<line x1="46.4" y1="273.9" x2="49.2" y2="273.9" stroke="#2a2a2a" stroke-width="1.1"/>
<text x="43.2" y="276.25" font-size="8.4" text-anchor="end" fill="#222" textLength="14.8" lengthAdjust="spacingAndGlyphs">-500</text>
<line x1="59.25" y1="273.9" x2="59.25" y2="276.7" stroke="#2a2a2a" stroke-width="1.1"/>
<text transform="translate(62.05 282.7) rotate(-45)" x="0" y="0" font-size="8" text-anchor="end" fill="#222" textLength="19.5" lengthAdjust="spacingAndGlyphs">Naive</text>
<line x1="79.5" y1="273.9" x2="79.5" y2="276.7" stroke="#2a2a2a" stroke-width="1.1"/>
<text transform="translate(82.3 282.7) rotate(-45)" x="0" y="0" font-size="8" text-anchor="end" fill="#222" textLength="17" lengthAdjust="spacingAndGlyphs">UnRx</text>
<line x1="100" y1="273.9" x2="100" y2="276.7" stroke="#2a2a2a" stroke-width="1.1"/>
<text transform="translate(102.8 282.7) rotate(-45)" x="0" y="0" font-size="8" text-anchor="end" fill="#222" textLength="22" lengthAdjust="spacingAndGlyphs"><tspan font-family="Liberation Serif">&#945;</tspan>-IFN<tspan font-family="Liberation Serif">&#947;</tspan></text>
<line x1="120" y1="273.9" x2="120" y2="276.7" stroke="#2a2a2a" stroke-width="1.1"/>
<text transform="translate(122.8 282.7) rotate(-45)" x="0" y="0" font-size="8" text-anchor="end" fill="#222" textLength="16.5" lengthAdjust="spacingAndGlyphs">Ruxo</text>
<text transform="translate(81.3 177.1) scale(0.8032 1)" font-size="8.3" fill="#222" class="tt">IFN-<tspan font-family="Liberation Serif">&#947;</tspan></text>
<text transform="translate(16.4 232.5) rotate(-90)" x="0" y="0" font-size="9.2" text-anchor="middle" fill="#222" textLength="26.4" lengthAdjust="spacingAndGlyphs">pg/mL</text>
<line x1="64.6" y1="265" x2="129.3" y2="265" stroke="#8a8a8a" stroke-width="0.9" stroke-dasharray="0.9 2"/>
<line x1="57.2" y1="193.5" x2="79.3" y2="193.5" stroke="#505050" stroke-width="1.15"/>
<circle cx="63.9" cy="189.95" r="1.1" fill="#404040"/>
<circle cx="66.8" cy="189.95" r="1.1" fill="#404040"/>
<circle cx="69.7" cy="189.95" r="1.1" fill="#404040"/>
<circle cx="72.6" cy="189.95" r="1.1" fill="#404040"/>
<line x1="81.2" y1="186.5" x2="118.6" y2="186.5" stroke="#505050" stroke-width="1.15"/>
<circle cx="95.55" cy="183.35" r="1.1" fill="#404040"/>
<circle cx="98.45" cy="183.35" r="1.1" fill="#404040"/>
<circle cx="101.35" cy="183.35" r="1.1" fill="#404040"/>
<circle cx="104.25" cy="183.35" r="1.1" fill="#404040"/>
<line x1="81.2" y1="194.5" x2="106.25" y2="194.5" stroke="#505050" stroke-width="1.15"/>
<circle cx="89.38" cy="190.45" r="1.1" fill="#404040"/>
<circle cx="92.28" cy="190.45" r="1.1" fill="#404040"/>
<circle cx="95.17" cy="190.45" r="1.1" fill="#404040"/>
<circle cx="98.08" cy="190.45" r="1.1" fill="#404040"/>
<line x1="79.5" y1="199.1" x2="79.5" y2="222.4" stroke="#1e1e1e" stroke-width="1"/>
<line x1="76.1" y1="199.1" x2="82.9" y2="199.1" stroke="#1e1e1e" stroke-width="1"/>
<line x1="76.1" y1="222.4" x2="82.9" y2="222.4" stroke="#1e1e1e" stroke-width="1"/>
<line x1="100" y1="250.4" x2="100" y2="263.2" stroke="#1e1e1e" stroke-width="1"/>
<line x1="96.6" y1="250.4" x2="103.4" y2="250.4" stroke="#1e1e1e" stroke-width="1"/>
<line x1="96.6" y1="263.2" x2="103.4" y2="263.2" stroke="#1e1e1e" stroke-width="1"/>
<line x1="120" y1="256.3" x2="120" y2="264" stroke="#1e1e1e" stroke-width="1"/>
<line x1="116.6" y1="256.3" x2="123.4" y2="256.3" stroke="#1e1e1e" stroke-width="1"/>
<line x1="116.6" y1="264" x2="123.4" y2="264" stroke="#1e1e1e" stroke-width="1"/>
<circle cx="55.25" cy="265" r="1.85" fill="#ab1d3b"/>
<circle cx="57.25" cy="265" r="1.85" fill="#ab1d3b"/>
<circle cx="59.25" cy="265" r="1.85" fill="#ab1d3b"/>
<circle cx="61.25" cy="265" r="1.85" fill="#ab1d3b"/>
<circle cx="63.25" cy="265" r="1.85" fill="#ab1d3b"/>
<rect x="77.95" y="195.85" width="3.1" height="3.1" fill="#2a5592"/>
<rect x="80.85" y="199.05" width="3.1" height="3.1" fill="#2a5592"/>
<rect x="75.45" y="203.15" width="3.1" height="3.1" fill="#2a5592"/>
<rect x="77.95" y="214.55" width="3.1" height="3.1" fill="#2a5592"/>
<rect x="80.85" y="219.65" width="3.1" height="3.1" fill="#2a5592"/>
<rect x="75.75" y="223.35" width="3.1" height="3.1" fill="#2a5592"/>
<path d="M97.5 245.7L99.55 249.3L95.45 249.3Z" fill="#6cb24d"/>
<path d="M102.5 245.7L104.55 249.3L100.45 249.3Z" fill="#6cb24d"/>
<path d="M95 257.5L97.05 261.1L92.95 261.1Z" fill="#6cb24d"/>
<path d="M97.5 260L99.55 263.6L95.45 263.6Z" fill="#6cb24d"/>
<path d="M100 261L102.05 264.6L97.95 264.6Z" fill="#6cb24d"/>
<path d="M102.5 260L104.55 263.6L100.45 263.6Z" fill="#6cb24d"/>
<path d="M105 257.5L107.05 261.1L102.95 261.1Z" fill="#6cb24d"/>
<path d="M120 253.1L122.05 249.5L117.95 249.5Z" fill="#6b2b6e"/>
<path d="M117.4 258.9L119.45 255.3L115.35 255.3Z" fill="#6b2b6e"/>
<path d="M122.5 258.9L124.55 255.3L120.45 255.3Z" fill="#6b2b6e"/>
<path d="M115.5 263L117.55 259.4L113.45 259.4Z" fill="#6b2b6e"/>
<path d="M118.5 263.5L120.55 259.9L116.45 259.9Z" fill="#6b2b6e"/>
<path d="M121.5 263.5L123.55 259.9L119.45 259.9Z" fill="#6b2b6e"/>
<path d="M124.5 263L126.55 259.4L122.45 259.4Z" fill="#6b2b6e"/>
<path d="M117.5 266L119.55 262.4L115.45 262.4Z" fill="#6b2b6e"/>
<path d="M122.5 266L124.55 262.4L120.45 262.4Z" fill="#6b2b6e"/>
<line x1="52.45" y1="265" x2="66.05" y2="265" stroke="#1e1e1e" stroke-width="1.1"/>
<line x1="73.1" y1="210.9" x2="85.9" y2="210.9" stroke="#1e1e1e" stroke-width="1.1"/>
<line x1="93.6" y1="256.9" x2="106.4" y2="256.9" stroke="#1e1e1e" stroke-width="1.1"/>
<line x1="113.6" y1="260.3" x2="126.4" y2="260.3" stroke="#1e1e1e" stroke-width="1.1"/>
<line x1="184.5" y1="191.25" x2="184.5" y2="274.9" stroke="#2a2a2a" stroke-width="1.3"/>
<line x1="183.85" y1="274.25" x2="264.6" y2="274.25" stroke="#2a2a2a" stroke-width="1.3"/>
<line x1="181.7" y1="193.75" x2="184.5" y2="193.75" stroke="#2a2a2a" stroke-width="1.1"/>
<text x="178.5" y="196.1" font-size="8.4" text-anchor="end" fill="#222" textLength="12.33" lengthAdjust="spacingAndGlyphs">300</text>
<line x1="181.7" y1="220.75" x2="184.5" y2="220.75" stroke="#2a2a2a" stroke-width="1.1"/>
<text x="178.5" y="223.1" font-size="8.4" text-anchor="end" fill="#222" textLength="12.33" lengthAdjust="spacingAndGlyphs">200</text>
<line x1="181.7" y1="247.5" x2="184.5" y2="247.5" stroke="#2a2a2a" stroke-width="1.1"/>
<text x="178.5" y="249.85" font-size="8.4" text-anchor="end" fill="#222" textLength="12.33" lengthAdjust="spacingAndGlyphs">100</text>
<line x1="181.7" y1="274.25" x2="184.5" y2="274.25" stroke="#2a2a2a" stroke-width="1.1"/>
<text x="178.5" y="276.6" font-size="8.4" text-anchor="end" fill="#222" textLength="4.11" lengthAdjust="spacingAndGlyphs">0</text>
<line x1="195.5" y1="274.25" x2="195.5" y2="277.05" stroke="#2a2a2a" stroke-width="1.1"/>
<text transform="translate(198.3 283.05) rotate(-45)" x="0" y="0" font-size="8" text-anchor="end" fill="#222" textLength="19.5" lengthAdjust="spacingAndGlyphs">Naive</text>
<line x1="215.3" y1="274.25" x2="215.3" y2="277.05" stroke="#2a2a2a" stroke-width="1.1"/>
<text transform="translate(218.1 283.05) rotate(-45)" x="0" y="0" font-size="8" text-anchor="end" fill="#222" textLength="17" lengthAdjust="spacingAndGlyphs">UnRx</text>
<line x1="235.3" y1="274.25" x2="235.3" y2="277.05" stroke="#2a2a2a" stroke-width="1.1"/>
<text transform="translate(238.1 283.05) rotate(-45)" x="0" y="0" font-size="8" text-anchor="end" fill="#222" textLength="22" lengthAdjust="spacingAndGlyphs"><tspan font-family="Liberation Serif">&#945;</tspan>-IFN<tspan font-family="Liberation Serif">&#947;</tspan></text>
<line x1="255.5" y1="274.25" x2="255.5" y2="277.05" stroke="#2a2a2a" stroke-width="1.1"/>
<text transform="translate(258.3 283.05) rotate(-45)" x="0" y="0" font-size="8" text-anchor="end" fill="#222" textLength="16.5" lengthAdjust="spacingAndGlyphs">Ruxo</text>
<text transform="translate(215.95 177.1) scale(0.8056 1)" font-size="8.3" fill="#222" class="tt">TNF<tspan font-family="Liberation Serif">&#945;</tspan></text>
<text transform="translate(161.4 232.9) rotate(-90)" x="0" y="0" font-size="9.2" text-anchor="middle" fill="#222" textLength="26.6" lengthAdjust="spacingAndGlyphs">pg/mL</text>
<line x1="192" y1="190.5" x2="235.5" y2="190.5" stroke="#505050" stroke-width="1.15"/>
<circle cx="212.3" cy="186.45" r="1.1" fill="#404040"/>
<circle cx="215.2" cy="186.45" r="1.1" fill="#404040"/>
<line x1="192" y1="198.5" x2="213.75" y2="198.5" stroke="#505050" stroke-width="1.15"/>
<circle cx="199.97" cy="195.2" r="1.1" fill="#404040"/>
<circle cx="202.88" cy="195.2" r="1.1" fill="#404040"/>
<circle cx="205.78" cy="195.2" r="1.1" fill="#404040"/>
<line x1="216.25" y1="198.5" x2="251.75" y2="198.5" stroke="#505050" stroke-width="1.15"/>
<circle cx="234" cy="195.2" r="1.1" fill="#404040"/>
<line x1="215.3" y1="213.4" x2="215.3" y2="252.3" stroke="#1e1e1e" stroke-width="1"/>
<line x1="211.9" y1="213.4" x2="218.7" y2="213.4" stroke="#1e1e1e" stroke-width="1"/>
<line x1="211.9" y1="252.3" x2="218.7" y2="252.3" stroke="#1e1e1e" stroke-width="1"/>
<line x1="235.3" y1="228.2" x2="235.3" y2="259.2" stroke="#1e1e1e" stroke-width="1"/>
<line x1="231.9" y1="228.2" x2="238.7" y2="228.2" stroke="#1e1e1e" stroke-width="1"/>
<line x1="231.9" y1="259.2" x2="238.7" y2="259.2" stroke="#1e1e1e" stroke-width="1"/>
<line x1="255.5" y1="243.4" x2="255.5" y2="264.9" stroke="#1e1e1e" stroke-width="1"/>
<line x1="252.1" y1="243.4" x2="258.9" y2="243.4" stroke="#1e1e1e" stroke-width="1"/>
<line x1="252.1" y1="264.9" x2="258.9" y2="264.9" stroke="#1e1e1e" stroke-width="1"/>
<circle cx="191.7" cy="273.3" r="1.85" fill="#ab1d3b"/>
<circle cx="193.6" cy="273.3" r="1.85" fill="#ab1d3b"/>
<circle cx="195.5" cy="273.3" r="1.85" fill="#ab1d3b"/>
<circle cx="197.4" cy="273.3" r="1.85" fill="#ab1d3b"/>
<circle cx="199.3" cy="273.3" r="1.85" fill="#ab1d3b"/>
<rect x="211.15" y="207.35" width="3.1" height="3.1" fill="#2a5592"/>
<rect x="216.25" y="205.35" width="3.1" height="3.1" fill="#2a5592"/>
<rect x="211.15" y="236.95" width="3.1" height="3.1" fill="#2a5592"/>
<rect x="216.25" y="239.25" width="3.1" height="3.1" fill="#2a5592"/>
<rect x="216.25" y="246.95" width="3.1" height="3.1" fill="#2a5592"/>
<rect x="211.15" y="250.75" width="3.1" height="3.1" fill="#2a5592"/>
<path d="M235.3 213.8L237.35 217.4L233.25 217.4Z" fill="#6cb24d"/>
<path d="M235.3 229.2L237.35 232.8L233.25 232.8Z" fill="#6cb24d"/>
<path d="M235.3 240.3L237.35 243.9L233.25 243.9Z" fill="#6cb24d"/>
<path d="M232.7 248.8L234.75 252.4L230.65 252.4Z" fill="#6cb24d"/>
<path d="M240.1 250.6L242.15 254.2L238.05 254.2Z" fill="#6cb24d"/>
<path d="M233.2 256.2L235.25 259.8L231.15 259.8Z" fill="#6cb24d"/>
<path d="M238.1 255.2L240.15 258.8L236.05 258.8Z" fill="#6cb24d"/>
<path d="M255.5 232.5L257.55 228.9L253.45 228.9Z" fill="#6b2b6e"/>
<path d="M252.7 252L254.75 248.4L250.65 248.4Z" fill="#6b2b6e"/>
<path d="M258.1 251.2L260.15 247.6L256.05 247.6Z" fill="#6b2b6e"/>
<path d="M255.5 257.7L257.55 254.1L253.45 254.1Z" fill="#6b2b6e"/>
<path d="M250.4 263.2L252.45 259.6L248.35 259.6Z" fill="#6b2b6e"/>
<path d="M253.5 265.1L255.55 261.5L251.45 261.5Z" fill="#6b2b6e"/>
<path d="M257.3 263.5L259.35 259.9L255.25 259.9Z" fill="#6b2b6e"/>
<line x1="189.5" y1="273.5" x2="201.5" y2="273.5" stroke="#1e1e1e" stroke-width="1.1"/>
<line x1="208.9" y1="232.6" x2="221.7" y2="232.6" stroke="#1e1e1e" stroke-width="1.1"/>
<line x1="228.9" y1="243.8" x2="241.7" y2="243.8" stroke="#1e1e1e" stroke-width="1.1"/>
<line x1="249.1" y1="254.2" x2="261.9" y2="254.2" stroke="#1e1e1e" stroke-width="1.1"/>
<line x1="307" y1="193.75" x2="307" y2="274.9" stroke="#2a2a2a" stroke-width="1.3"/>
<line x1="306.35" y1="274.25" x2="387" y2="274.25" stroke="#2a2a2a" stroke-width="1.3"/>
<line x1="304.2" y1="196.25" x2="307" y2="196.25" stroke="#2a2a2a" stroke-width="1.1"/>
<text x="301" y="198.6" font-size="8.4" text-anchor="end" fill="#222" textLength="12.33" lengthAdjust="spacingAndGlyphs">600</text>
<line x1="304.2" y1="222.5" x2="307" y2="222.5" stroke="#2a2a2a" stroke-width="1.1"/>
<text x="301" y="224.85" font-size="8.4" text-anchor="end" fill="#222" textLength="12.33" lengthAdjust="spacingAndGlyphs">400</text>
<line x1="304.2" y1="248.25" x2="307" y2="248.25" stroke="#2a2a2a" stroke-width="1.1"/>
<text x="301" y="250.6" font-size="8.4" text-anchor="end" fill="#222" textLength="12.33" lengthAdjust="spacingAndGlyphs">200</text>
<line x1="304.2" y1="274.25" x2="307" y2="274.25" stroke="#2a2a2a" stroke-width="1.1"/>
<text x="301" y="276.6" font-size="8.4" text-anchor="end" fill="#222" textLength="4.11" lengthAdjust="spacingAndGlyphs">0</text>
<line x1="317.2" y1="274.25" x2="317.2" y2="277.05" stroke="#2a2a2a" stroke-width="1.1"/>
<text transform="translate(320 283.05) rotate(-45)" x="0" y="0" font-size="8" text-anchor="end" fill="#222" textLength="19.5" lengthAdjust="spacingAndGlyphs">Naive</text>
<line x1="336.8" y1="274.25" x2="336.8" y2="277.05" stroke="#2a2a2a" stroke-width="1.1"/>
<text transform="translate(339.6 283.05) rotate(-45)" x="0" y="0" font-size="8" text-anchor="end" fill="#222" textLength="17" lengthAdjust="spacingAndGlyphs">UnRx</text>
<line x1="356.5" y1="274.25" x2="356.5" y2="277.05" stroke="#2a2a2a" stroke-width="1.1"/>
<text transform="translate(359.3 283.05) rotate(-45)" x="0" y="0" font-size="8" text-anchor="end" fill="#222" textLength="22" lengthAdjust="spacingAndGlyphs"><tspan font-family="Liberation Serif">&#945;</tspan>-IFN<tspan font-family="Liberation Serif">&#947;</tspan></text>
<line x1="375.7" y1="274.25" x2="375.7" y2="277.05" stroke="#2a2a2a" stroke-width="1.1"/>
<text transform="translate(378.5 283.05) rotate(-45)" x="0" y="0" font-size="8" text-anchor="end" fill="#222" textLength="16.5" lengthAdjust="spacingAndGlyphs">Ruxo</text>
<text transform="translate(340.7 177.1) scale(0.8451 1)" font-size="8.3" fill="#222" class="tt">IL-6</text>
<text transform="translate(283.1 233.5) rotate(-90)" x="0" y="0" font-size="9.2" text-anchor="middle" fill="#222" textLength="26.6" lengthAdjust="spacingAndGlyphs">pg/mL</text>
<line x1="316.9" y1="204.5" x2="354.9" y2="204.5" stroke="#505050" stroke-width="1.15"/>
<circle cx="334.45" cy="200.65" r="1.1" fill="#404040"/>
<circle cx="337.35" cy="200.65" r="1.1" fill="#404040"/>
<line x1="356.5" y1="201.5" x2="373.8" y2="201.5" stroke="#505050" stroke-width="1.15"/>
<circle cx="365.15" cy="197.95" r="1.1" fill="#404040"/>
<line x1="336.8" y1="237.4" x2="336.8" y2="270.5" stroke="#1e1e1e" stroke-width="1"/>
<line x1="333.4" y1="237.4" x2="340.2" y2="237.4" stroke="#1e1e1e" stroke-width="1"/>
<line x1="333.4" y1="270.5" x2="340.2" y2="270.5" stroke="#1e1e1e" stroke-width="1"/>
<line x1="356.5" y1="222" x2="356.5" y2="267.4" stroke="#1e1e1e" stroke-width="1"/>
<line x1="353.1" y1="222" x2="359.9" y2="222" stroke="#1e1e1e" stroke-width="1"/>
<line x1="353.1" y1="267.4" x2="359.9" y2="267.4" stroke="#1e1e1e" stroke-width="1"/>
<line x1="375.7" y1="267" x2="375.7" y2="270" stroke="#1e1e1e" stroke-width="1"/>
<line x1="372.3" y1="267" x2="379.1" y2="267" stroke="#1e1e1e" stroke-width="1"/>
<line x1="372.3" y1="270" x2="379.1" y2="270" stroke="#1e1e1e" stroke-width="1"/>
<circle cx="313.4" cy="273.6" r="1.85" fill="#ab1d3b"/>
<circle cx="315.3" cy="273.6" r="1.85" fill="#ab1d3b"/>
<circle cx="317.2" cy="273.6" r="1.85" fill="#ab1d3b"/>
<circle cx="319.1" cy="273.6" r="1.85" fill="#ab1d3b"/>
<circle cx="321" cy="273.6" r="1.85" fill="#ab1d3b"/>
<rect x="335.25" y="227.25" width="3.1" height="3.1" fill="#2a5592"/>
<rect x="335.25" y="235.85" width="3.1" height="3.1" fill="#2a5592"/>
<rect x="331.05" y="259.65" width="3.1" height="3.1" fill="#2a5592"/>
<rect x="339.55" y="258.95" width="3.1" height="3.1" fill="#2a5592"/>
<rect x="335.25" y="261.95" width="3.1" height="3.1" fill="#2a5592"/>
<rect x="335.25" y="268.95" width="3.1" height="3.1" fill="#2a5592"/>
<path d="M356.5 204.6L358.55 208.2L354.45 208.2Z" fill="#6cb24d"/>
<path d="M356.5 221.1L358.55 224.7L354.45 224.7Z" fill="#6cb24d"/>
<path d="M356.5 239.2L358.55 242.8L354.45 242.8Z" fill="#6cb24d"/>
<path d="M356.5 251.1L358.55 254.7L354.45 254.7Z" fill="#6cb24d"/>
<path d="M353.8 256.5L355.85 260.1L351.75 260.1Z" fill="#6cb24d"/>
<path d="M359.1 256.5L361.15 260.1L357.05 260.1Z" fill="#6cb24d"/>
<path d="M356.5 269.2L358.55 272.8L354.45 272.8Z" fill="#6cb24d"/>
<path d="M370.3 267.8L372.35 264.2L368.25 264.2Z" fill="#6b2b6e"/>
<path d="M373.4 268.5L375.45 264.9L371.35 264.9Z" fill="#6b2b6e"/>
<path d="M378.8 268.2L380.85 264.6L376.75 264.6Z" fill="#6b2b6e"/>
<path d="M371.9 270.9L373.95 267.3L369.85 267.3Z" fill="#6b2b6e"/>
<path d="M375.7 270.5L377.75 266.9L373.65 266.9Z" fill="#6b2b6e"/>
<path d="M381.1 270.9L383.15 267.3L379.05 267.3Z" fill="#6b2b6e"/>
<path d="M371.1 272.5L373.15 268.9L369.05 268.9Z" fill="#6b2b6e"/>
<path d="M374.2 273.1L376.25 269.5L372.15 269.5Z" fill="#6b2b6e"/>
<path d="M378 272.8L380.05 269.2L375.95 269.2Z" fill="#6b2b6e"/>
<line x1="311.2" y1="273.6" x2="323.2" y2="273.6" stroke="#1e1e1e" stroke-width="1.1"/>
<line x1="330.4" y1="253.8" x2="343.2" y2="253.8" stroke="#1e1e1e" stroke-width="1.1"/>
<line x1="350.1" y1="244.6" x2="362.9" y2="244.6" stroke="#1e1e1e" stroke-width="1.1"/>
<line x1="370.3" y1="268.5" x2="381.1" y2="268.5" stroke="#1e1e1e" stroke-width="1.1"/>
<line x1="433.75" y1="192.5" x2="433.75" y2="274.9" stroke="#2a2a2a" stroke-width="1.3"/>
<line x1="433.1" y1="274.25" x2="512.5" y2="274.25" stroke="#2a2a2a" stroke-width="1.3"/>
<line x1="430.95" y1="195" x2="433.75" y2="195" stroke="#2a2a2a" stroke-width="1.1"/>
<text x="427.75" y="197.35" font-size="8.4" text-anchor="end" fill="#222" textLength="16.44" lengthAdjust="spacingAndGlyphs">2000</text>
<line x1="430.95" y1="210.75" x2="433.75" y2="210.75" stroke="#2a2a2a" stroke-width="1.1"/>
<text x="427.75" y="213.1" font-size="8.4" text-anchor="end" fill="#222" textLength="16.44" lengthAdjust="spacingAndGlyphs">1500</text>
<line x1="430.95" y1="226.75" x2="433.75" y2="226.75" stroke="#2a2a2a" stroke-width="1.1"/>
<text x="427.75" y="229.1" font-size="8.4" text-anchor="end" fill="#222" textLength="16.44" lengthAdjust="spacingAndGlyphs">1000</text>
<line x1="430.95" y1="242.5" x2="433.75" y2="242.5" stroke="#2a2a2a" stroke-width="1.1"/>
<text x="427.75" y="244.85" font-size="8.4" text-anchor="end" fill="#222" textLength="12.33" lengthAdjust="spacingAndGlyphs">500</text>
<line x1="430.95" y1="258.25" x2="433.75" y2="258.25" stroke="#2a2a2a" stroke-width="1.1"/>
<text x="427.75" y="260.6" font-size="8.4" text-anchor="end" fill="#222" textLength="4.11" lengthAdjust="spacingAndGlyphs">0</text>
<line x1="430.95" y1="274.25" x2="433.75" y2="274.25" stroke="#2a2a2a" stroke-width="1.1"/>
<text x="427.75" y="276.6" font-size="8.4" text-anchor="end" fill="#222" textLength="14.8" lengthAdjust="spacingAndGlyphs">-500</text>
<line x1="443.5" y1="274.25" x2="443.5" y2="277.05" stroke="#2a2a2a" stroke-width="1.1"/>
<text transform="translate(446.3 283.05) rotate(-45)" x="0" y="0" font-size="8" text-anchor="end" fill="#222" textLength="19.5" lengthAdjust="spacingAndGlyphs">Naive</text>
<line x1="463.2" y1="274.25" x2="463.2" y2="277.05" stroke="#2a2a2a" stroke-width="1.1"/>
<text transform="translate(466 283.05) rotate(-45)" x="0" y="0" font-size="8" text-anchor="end" fill="#222" textLength="17" lengthAdjust="spacingAndGlyphs">UnRx</text>
<line x1="483.5" y1="274.25" x2="483.5" y2="277.05" stroke="#2a2a2a" stroke-width="1.1"/>
<text transform="translate(486.3 283.05) rotate(-45)" x="0" y="0" font-size="8" text-anchor="end" fill="#222" textLength="22" lengthAdjust="spacingAndGlyphs"><tspan font-family="Liberation Serif">&#945;</tspan>-IFN<tspan font-family="Liberation Serif">&#947;</tspan></text>
<line x1="502.7" y1="274.25" x2="502.7" y2="277.05" stroke="#2a2a2a" stroke-width="1.1"/>
<text transform="translate(505.5 283.05) rotate(-45)" x="0" y="0" font-size="8" text-anchor="end" fill="#222" textLength="16.5" lengthAdjust="spacingAndGlyphs">Ruxo</text>
<text transform="translate(455.7 177.1) scale(0.8525 1)" font-size="8.3" fill="#222" class="tt">IL-12 (p70)</text>
<text transform="translate(407.8 232.8) rotate(-90)" x="0" y="0" font-size="9.2" text-anchor="middle" fill="#222" textLength="26.4" lengthAdjust="spacingAndGlyphs">pg/mL</text>
<line x1="458.8" y1="200.5" x2="480.7" y2="200.5" stroke="#505050" stroke-width="1.15"/>
<circle cx="466.85" cy="196.55" r="1.1" fill="#404040"/>
<circle cx="469.75" cy="196.55" r="1.1" fill="#404040"/>
<circle cx="472.65" cy="196.55" r="1.1" fill="#404040"/>
<line x1="483.5" y1="200.5" x2="501.5" y2="200.5" stroke="#505050" stroke-width="1.15"/>
<circle cx="489.6" cy="196.55" r="1.1" fill="#404040"/>
<circle cx="492.5" cy="196.55" r="1.1" fill="#404040"/>
<circle cx="495.4" cy="196.55" r="1.1" fill="#404040"/>
<line x1="463.2" y1="249.6" x2="463.2" y2="255.5" stroke="#1e1e1e" stroke-width="1"/>
<line x1="459.8" y1="249.6" x2="466.6" y2="249.6" stroke="#1e1e1e" stroke-width="1"/>
<line x1="459.8" y1="255.5" x2="466.6" y2="255.5" stroke="#1e1e1e" stroke-width="1"/>
<line x1="483.5" y1="225.3" x2="483.5" y2="256.8" stroke="#1e1e1e" stroke-width="1"/>
<line x1="480.1" y1="225.3" x2="486.9" y2="225.3" stroke="#1e1e1e" stroke-width="1"/>
<line x1="480.1" y1="256.8" x2="486.9" y2="256.8" stroke="#1e1e1e" stroke-width="1"/>
<line x1="502.7" y1="255" x2="502.7" y2="257.5" stroke="#1e1e1e" stroke-width="1"/>
<line x1="499.3" y1="255" x2="506.1" y2="255" stroke="#1e1e1e" stroke-width="1"/>
<line x1="499.3" y1="257.5" x2="506.1" y2="257.5" stroke="#1e1e1e" stroke-width="1"/>
<circle cx="439.5" cy="258.1" r="1.85" fill="#ab1d3b"/>
<circle cx="441.5" cy="258.1" r="1.85" fill="#ab1d3b"/>
<circle cx="443.5" cy="258.1" r="1.85" fill="#ab1d3b"/>
<circle cx="445.5" cy="258.1" r="1.85" fill="#ab1d3b"/>
<circle cx="447.5" cy="258.1" r="1.85" fill="#ab1d3b"/>
<rect x="465.75" y="246.55" width="3.1" height="3.1" fill="#2a5592"/>
<rect x="455.75" y="250.05" width="3.1" height="3.1" fill="#2a5592"/>
<rect x="461.65" y="250.65" width="3.1" height="3.1" fill="#2a5592"/>
<rect x="465.75" y="251.45" width="3.1" height="3.1" fill="#2a5592"/>
<rect x="458.05" y="252.65" width="3.1" height="3.1" fill="#2a5592"/>
<rect x="461.95" y="253.45" width="3.1" height="3.1" fill="#2a5592"/>
<rect x="465.75" y="253.95" width="3.1" height="3.1" fill="#2a5592"/>
<rect x="461.65" y="256.25" width="3.1" height="3.1" fill="#2a5592"/>
<path d="M483.5 207.6L485.55 211.2L481.45 211.2Z" fill="#6cb24d"/>
<path d="M480.8 235.3L482.85 238.9L478.75 238.9Z" fill="#6cb24d"/>
<path d="M485.8 234.2L487.85 237.8L483.75 237.8Z" fill="#6cb24d"/>
<path d="M480.8 246.5L482.85 250.1L478.75 250.1Z" fill="#6cb24d"/>
<path d="M488.1 247.2L490.15 250.8L486.05 250.8Z" fill="#6cb24d"/>
<path d="M480.8 254.5L482.85 258.1L478.75 258.1Z" fill="#6cb24d"/>
<path d="M484.5 254.3L486.55 257.9L482.45 257.9Z" fill="#6cb24d"/>
<path d="M502.7 253.2L504.75 249.6L500.65 249.6Z" fill="#6b2b6e"/>
<path d="M497.7 258.5L499.75 254.9L495.65 254.9Z" fill="#6b2b6e"/>
<path d="M500.2 259.8L502.25 256.2L498.15 256.2Z" fill="#6b2b6e"/>
<path d="M502.7 260.1L504.75 256.5L500.65 256.5Z" fill="#6b2b6e"/>
<path d="M505.2 259.8L507.25 256.2L503.15 256.2Z" fill="#6b2b6e"/>
<path d="M508.2 258.5L510.25 254.9L506.15 254.9Z" fill="#6b2b6e"/>
<path d="M501.7 258L503.75 254.4L499.65 254.4Z" fill="#6b2b6e"/>
<path d="M504.2 257.8L506.25 254.2L502.15 254.2Z" fill="#6b2b6e"/>
<line x1="437.9" y1="258.1" x2="449.1" y2="258.1" stroke="#1e1e1e" stroke-width="1.1"/>
<line x1="456.8" y1="253.5" x2="469.6" y2="253.5" stroke="#1e1e1e" stroke-width="1.1"/>
<line x1="477.1" y1="240.8" x2="489.9" y2="240.8" stroke="#1e1e1e" stroke-width="1.1"/>
<line x1="496.9" y1="256.2" x2="508.5" y2="256.2" stroke="#1e1e1e" stroke-width="1.1"/>
<line x1="48.75" y1="347.5" x2="48.75" y2="430.65" stroke="#2a2a2a" stroke-width="1.3"/>
<line x1="48.1" y1="430" x2="128.5" y2="430" stroke="#2a2a2a" stroke-width="1.3"/>
<line x1="45.95" y1="350" x2="48.75" y2="350" stroke="#2a2a2a" stroke-width="1.1"/>
<text x="42.75" y="352.35" font-size="8.4" text-anchor="end" fill="#222" textLength="16.44" lengthAdjust="spacingAndGlyphs">5000</text>
<line x1="45.95" y1="365.75" x2="48.75" y2="365.75" stroke="#2a2a2a" stroke-width="1.1"/>
<text x="42.75" y="368.1" font-size="8.4" text-anchor="end" fill="#222" textLength="16.44" lengthAdjust="spacingAndGlyphs">4000</text>
<line x1="45.95" y1="382" x2="48.75" y2="382" stroke="#2a2a2a" stroke-width="1.1"/>
<text x="42.75" y="384.35" font-size="8.4" text-anchor="end" fill="#222" textLength="16.44" lengthAdjust="spacingAndGlyphs">3000</text>
<line x1="45.95" y1="398" x2="48.75" y2="398" stroke="#2a2a2a" stroke-width="1.1"/>
<text x="42.75" y="400.35" font-size="8.4" text-anchor="end" fill="#222" textLength="16.44" lengthAdjust="spacingAndGlyphs">2000</text>
<line x1="45.95" y1="414" x2="48.75" y2="414" stroke="#2a2a2a" stroke-width="1.1"/>
<text x="42.75" y="416.35" font-size="8.4" text-anchor="end" fill="#222" textLength="16.44" lengthAdjust="spacingAndGlyphs">1000</text>
<line x1="45.95" y1="430" x2="48.75" y2="430" stroke="#2a2a2a" stroke-width="1.1"/>
<text x="42.75" y="432.35" font-size="8.4" text-anchor="end" fill="#222" textLength="4.11" lengthAdjust="spacingAndGlyphs">0</text>
<line x1="59.2" y1="430" x2="59.2" y2="432.8" stroke="#2a2a2a" stroke-width="1.1"/>
<text transform="translate(62 438.8) rotate(-45)" x="0" y="0" font-size="8" text-anchor="end" fill="#222" textLength="19.5" lengthAdjust="spacingAndGlyphs">Naive</text>
<line x1="78.9" y1="430" x2="78.9" y2="432.8" stroke="#2a2a2a" stroke-width="1.1"/>
<text transform="translate(81.7 438.8) rotate(-45)" x="0" y="0" font-size="8" text-anchor="end" fill="#222" textLength="17" lengthAdjust="spacingAndGlyphs">UnRx</text>
<line x1="98.9" y1="430" x2="98.9" y2="432.8" stroke="#2a2a2a" stroke-width="1.1"/>
<text transform="translate(101.7 438.8) rotate(-45)" x="0" y="0" font-size="8" text-anchor="end" fill="#222" textLength="22" lengthAdjust="spacingAndGlyphs"><tspan font-family="Liberation Serif">&#945;</tspan>-IFN<tspan font-family="Liberation Serif">&#947;</tspan></text>
<line x1="118.9" y1="430" x2="118.9" y2="432.8" stroke="#2a2a2a" stroke-width="1.1"/>
<text transform="translate(121.7 438.8) rotate(-45)" x="0" y="0" font-size="8" text-anchor="end" fill="#222" textLength="16.5" lengthAdjust="spacingAndGlyphs">Ruxo</text>
<text transform="translate(75.95 318.9) scale(0.8000 1)" font-size="8.3" fill="#222" class="tt">CXCL10</text>
<text transform="translate(20.2 388.6) rotate(-90)" x="0" y="0" font-size="9.2" text-anchor="middle" fill="#222" textLength="26.2" lengthAdjust="spacingAndGlyphs">pg/mL</text>
<line x1="52" y1="340.5" x2="118.75" y2="340.5" stroke="#505050" stroke-width="1.15"/>
<circle cx="81.03" cy="337.2" r="1.1" fill="#404040"/>
<circle cx="83.93" cy="337.2" r="1.1" fill="#404040"/>
<circle cx="86.83" cy="337.2" r="1.1" fill="#404040"/>
<circle cx="89.73" cy="337.2" r="1.1" fill="#404040"/>
<line x1="53.75" y1="349.5" x2="98.75" y2="349.5" stroke="#505050" stroke-width="1.15"/>
<circle cx="71.9" cy="345.7" r="1.1" fill="#404040"/>
<circle cx="74.8" cy="345.7" r="1.1" fill="#404040"/>
<circle cx="77.7" cy="345.7" r="1.1" fill="#404040"/>
<circle cx="80.6" cy="345.7" r="1.1" fill="#404040"/>
<line x1="78.5" y1="355.5" x2="118.5" y2="355.5" stroke="#505050" stroke-width="1.15"/>
<circle cx="94.15" cy="352.25" r="1.1" fill="#404040"/>
<circle cx="97.05" cy="352.25" r="1.1" fill="#404040"/>
<circle cx="99.95" cy="352.25" r="1.1" fill="#404040"/>
<circle cx="102.85" cy="352.25" r="1.1" fill="#404040"/>
<line x1="53.4" y1="363.5" x2="75.4" y2="363.5" stroke="#505050" stroke-width="1.15"/>
<circle cx="60.05" cy="360.35" r="1.1" fill="#404040"/>
<circle cx="62.95" cy="360.35" r="1.1" fill="#404040"/>
<circle cx="65.85" cy="360.35" r="1.1" fill="#404040"/>
<circle cx="68.75" cy="360.35" r="1.1" fill="#404040"/>
<line x1="77.4" y1="363.5" x2="100" y2="363.5" stroke="#505050" stroke-width="1.15"/>
<circle cx="84.35" cy="360.35" r="1.1" fill="#404040"/>
<circle cx="87.25" cy="360.35" r="1.1" fill="#404040"/>
<circle cx="90.15" cy="360.35" r="1.1" fill="#404040"/>
<circle cx="93.05" cy="360.35" r="1.1" fill="#404040"/>
<line x1="100" y1="377.5" x2="118.9" y2="377.5" stroke="#505050" stroke-width="1.15"/>
<circle cx="109.45" cy="373.75" r="1.1" fill="#404040"/>
<line x1="59.2" y1="423.5" x2="59.2" y2="425" stroke="#1e1e1e" stroke-width="1"/>
<line x1="55.8" y1="423.5" x2="62.6" y2="423.5" stroke="#1e1e1e" stroke-width="1"/>
<line x1="55.8" y1="425" x2="62.6" y2="425" stroke="#1e1e1e" stroke-width="1"/>
<line x1="78.9" y1="368.8" x2="78.9" y2="381.5" stroke="#1e1e1e" stroke-width="1"/>
<line x1="75.5" y1="368.8" x2="82.3" y2="368.8" stroke="#1e1e1e" stroke-width="1"/>
<line x1="75.5" y1="381.5" x2="82.3" y2="381.5" stroke="#1e1e1e" stroke-width="1"/>
<line x1="98.9" y1="391.9" x2="98.9" y2="401.9" stroke="#1e1e1e" stroke-width="1"/>
<line x1="95.5" y1="391.9" x2="102.3" y2="391.9" stroke="#1e1e1e" stroke-width="1"/>
<line x1="95.5" y1="401.9" x2="102.3" y2="401.9" stroke="#1e1e1e" stroke-width="1"/>
<line x1="118.9" y1="399.6" x2="118.9" y2="409.2" stroke="#1e1e1e" stroke-width="1"/>
<line x1="115.5" y1="399.6" x2="122.3" y2="399.6" stroke="#1e1e1e" stroke-width="1"/>
<line x1="115.5" y1="409.2" x2="122.3" y2="409.2" stroke="#1e1e1e" stroke-width="1"/>
<circle cx="54.6" cy="424.8" r="1.85" fill="#ab1d3b"/>
<circle cx="56.9" cy="425.5" r="1.85" fill="#ab1d3b"/>
<circle cx="59.2" cy="424.5" r="1.85" fill="#ab1d3b"/>
<circle cx="61.5" cy="423.8" r="1.85" fill="#ab1d3b"/>
<circle cx="63.8" cy="423.5" r="1.85" fill="#ab1d3b"/>
<circle cx="58.2" cy="423.5" r="1.85" fill="#ab1d3b"/>
<rect x="77.35" y="365.75" width="3.1" height="3.1" fill="#2a5592"/>
<rect x="72.75" y="369.65" width="3.1" height="3.1" fill="#2a5592"/>
<rect x="81.55" y="368.85" width="3.1" height="3.1" fill="#2a5592"/>
<rect x="77.35" y="371.65" width="3.1" height="3.1" fill="#2a5592"/>
<rect x="79.65" y="378.85" width="3.1" height="3.1" fill="#2a5592"/>
<rect x="74.95" y="383.45" width="3.1" height="3.1" fill="#2a5592"/>
<path d="M98.9 386.5L100.95 390.1L96.85 390.1Z" fill="#6cb24d"/>
<path d="M94.9 394.2L96.95 397.8L92.85 397.8Z" fill="#6cb24d"/>
<path d="M103.1 393.3L105.15 396.9L101.05 396.9Z" fill="#6cb24d"/>
<path d="M98.9 394.5L100.95 398.1L96.85 398.1Z" fill="#6cb24d"/>
<path d="M96.9 397.6L98.95 401.2L94.85 401.2Z" fill="#6cb24d"/>
<path d="M98.9 398.5L100.95 402.1L96.85 402.1Z" fill="#6cb24d"/>
<path d="M98.9 403.5L100.95 407.1L96.85 407.1Z" fill="#6cb24d"/>
<path d="M118.5 395.2L120.55 391.6L116.45 391.6Z" fill="#6b2b6e"/>
<path d="M115.4 406.2L117.45 402.6L113.35 402.6Z" fill="#6b2b6e"/>
<path d="M121.5 405.9L123.55 402.3L119.45 402.3Z" fill="#6b2b6e"/>
<path d="M118.7 407.5L120.75 403.9L116.65 403.9Z" fill="#6b2b6e"/>
<path d="M114.3 409L116.35 405.4L112.25 405.4Z" fill="#6b2b6e"/>
<path d="M120.1 409.5L122.15 405.9L118.05 405.9Z" fill="#6b2b6e"/>
<path d="M117 410.4L119.05 406.8L114.95 406.8Z" fill="#6b2b6e"/>
<path d="M122.9 407.5L124.95 403.9L120.85 403.9Z" fill="#6b2b6e"/>
<line x1="52.7" y1="424.2" x2="65.7" y2="424.2" stroke="#1e1e1e" stroke-width="1.1"/>
<line x1="72.5" y1="374.7" x2="85.3" y2="374.7" stroke="#1e1e1e" stroke-width="1.1"/>
<line x1="92.5" y1="396.8" x2="105.3" y2="396.8" stroke="#1e1e1e" stroke-width="1.1"/>
<line x1="112.5" y1="404.5" x2="125.3" y2="404.5" stroke="#1e1e1e" stroke-width="1.1"/>
<line x1="185" y1="347" x2="185" y2="430.65" stroke="#2a2a2a" stroke-width="1.3"/>
<line x1="184.35" y1="430" x2="265.2" y2="430" stroke="#2a2a2a" stroke-width="1.3"/>
<line x1="182.2" y1="349.25" x2="185" y2="349.25" stroke="#2a2a2a" stroke-width="1.1"/>
<text x="179" y="351.6" font-size="8.4" text-anchor="end" fill="#222" textLength="12.33" lengthAdjust="spacingAndGlyphs">800</text>
<line x1="182.2" y1="365" x2="185" y2="365" stroke="#2a2a2a" stroke-width="1.1"/>
<text x="179" y="367.35" font-size="8.4" text-anchor="end" fill="#222" textLength="12.33" lengthAdjust="spacingAndGlyphs">600</text>
<line x1="182.2" y1="381.25" x2="185" y2="381.25" stroke="#2a2a2a" stroke-width="1.1"/>
<text x="179" y="383.6" font-size="8.4" text-anchor="end" fill="#222" textLength="12.33" lengthAdjust="spacingAndGlyphs">400</text>
<line x1="182.2" y1="397.5" x2="185" y2="397.5" stroke="#2a2a2a" stroke-width="1.1"/>
<text x="179" y="399.85" font-size="8.4" text-anchor="end" fill="#222" textLength="12.33" lengthAdjust="spacingAndGlyphs">200</text>
<line x1="182.2" y1="413.75" x2="185" y2="413.75" stroke="#2a2a2a" stroke-width="1.1"/>
<text x="179" y="416.1" font-size="8.4" text-anchor="end" fill="#222" textLength="4.11" lengthAdjust="spacingAndGlyphs">0</text>
<line x1="182.2" y1="430" x2="185" y2="430" stroke="#2a2a2a" stroke-width="1.1"/>
<text x="179" y="432.35" font-size="8.4" text-anchor="end" fill="#222" textLength="14.8" lengthAdjust="spacingAndGlyphs">-200</text>
<line x1="195" y1="430" x2="195" y2="432.8" stroke="#2a2a2a" stroke-width="1.1"/>
<text transform="translate(197.8 438.8) rotate(-45)" x="0" y="0" font-size="8" text-anchor="end" fill="#222" textLength="19.5" lengthAdjust="spacingAndGlyphs">Naive</text>
<line x1="215.3" y1="430" x2="215.3" y2="432.8" stroke="#2a2a2a" stroke-width="1.1"/>
<text transform="translate(218.1 438.8) rotate(-45)" x="0" y="0" font-size="8" text-anchor="end" fill="#222" textLength="17" lengthAdjust="spacingAndGlyphs">UnRx</text>
<line x1="235.3" y1="430" x2="235.3" y2="432.8" stroke="#2a2a2a" stroke-width="1.1"/>
<text transform="translate(238.1 438.8) rotate(-45)" x="0" y="0" font-size="8" text-anchor="end" fill="#222" textLength="22" lengthAdjust="spacingAndGlyphs"><tspan font-family="Liberation Serif">&#945;</tspan>-IFN<tspan font-family="Liberation Serif">&#947;</tspan></text>
<line x1="255.5" y1="430" x2="255.5" y2="432.8" stroke="#2a2a2a" stroke-width="1.1"/>
<text transform="translate(258.3 438.8) rotate(-45)" x="0" y="0" font-size="8" text-anchor="end" fill="#222" textLength="16.5" lengthAdjust="spacingAndGlyphs">Ruxo</text>
<text transform="translate(216.95 318.9) scale(0.8434 1)" font-size="8.3" fill="#222" class="tt">IL1-<tspan font-family="Liberation Serif">&#946;</tspan></text>
<text transform="translate(160.4 387.8) rotate(-90)" x="0" y="0" font-size="9.2" text-anchor="middle" fill="#222" textLength="26.4" lengthAdjust="spacingAndGlyphs">pg/mL</text>
<line x1="192.7" y1="347.5" x2="235.8" y2="347.5" stroke="#505050" stroke-width="1.15"/>
<circle cx="212.8" cy="343.65" r="1.1" fill="#404040"/>
<circle cx="215.7" cy="343.65" r="1.1" fill="#404040"/>
<line x1="213.5" y1="357.5" x2="231.9" y2="357.5" stroke="#505050" stroke-width="1.15"/>
<circle cx="221.25" cy="353.85" r="1.1" fill="#404040"/>
<circle cx="224.15" cy="353.85" r="1.1" fill="#404040"/>
<line x1="235.8" y1="357.5" x2="253.9" y2="357.5" stroke="#505050" stroke-width="1.15"/>
<circle cx="243.4" cy="353.85" r="1.1" fill="#404040"/>
<circle cx="246.3" cy="353.85" r="1.1" fill="#404040"/>
<line x1="235.3" y1="370.5" x2="235.3" y2="411.1" stroke="#1e1e1e" stroke-width="1"/>
<line x1="231.9" y1="370.5" x2="238.7" y2="370.5" stroke="#1e1e1e" stroke-width="1"/>
<line x1="231.9" y1="411.1" x2="238.7" y2="411.1" stroke="#1e1e1e" stroke-width="1"/>
<circle cx="191" cy="413.5" r="1.85" fill="#ab1d3b"/>
<circle cx="193" cy="413.5" r="1.85" fill="#ab1d3b"/>
<circle cx="195" cy="413.5" r="1.85" fill="#ab1d3b"/>
<circle cx="197" cy="413.5" r="1.85" fill="#ab1d3b"/>
<circle cx="199" cy="413.5" r="1.85" fill="#ab1d3b"/>
<rect x="209.25" y="412.05" width="3.1" height="3.1" fill="#2a5592"/>
<rect x="211.55" y="412.05" width="3.1" height="3.1" fill="#2a5592"/>
<rect x="213.75" y="412.05" width="3.1" height="3.1" fill="#2a5592"/>
<rect x="215.95" y="412.05" width="3.1" height="3.1" fill="#2a5592"/>
<rect x="218.25" y="412.05" width="3.1" height="3.1" fill="#2a5592"/>
<rect x="216.05" y="408.95" width="3.1" height="3.1" fill="#2a5592"/>
<path d="M233 362.3L235.05 365.9L230.95 365.9Z" fill="#6cb24d"/>
<path d="M238.1 360.3L240.15 363.9L236.05 363.9Z" fill="#6cb24d"/>
<path d="M235.3 388.8L237.35 392.4L233.25 392.4Z" fill="#6cb24d"/>
<path d="M235.3 396.2L237.35 399.8L233.25 399.8Z" fill="#6cb24d"/>
<path d="M233 400.3L235.05 403.9L230.95 403.9Z" fill="#6cb24d"/>
<path d="M238.1 402.3L240.15 405.9L236.05 405.9Z" fill="#6cb24d"/>
<path d="M235.3 412.6L237.35 416.2L233.25 416.2Z" fill="#6cb24d"/>
<path d="M251.5 415.5L253.55 411.9L249.45 411.9Z" fill="#6b2b6e"/>
<path d="M253.5 415.5L255.55 411.9L251.45 411.9Z" fill="#6b2b6e"/>
<path d="M255.5 415.5L257.55 411.9L253.45 411.9Z" fill="#6b2b6e"/>
<path d="M257.5 415.5L259.55 411.9L255.45 411.9Z" fill="#6b2b6e"/>
<path d="M259.5 415.5L261.55 411.9L257.45 411.9Z" fill="#6b2b6e"/>
<line x1="189.1" y1="413.6" x2="200.9" y2="413.6" stroke="#1e1e1e" stroke-width="1.1"/>
<line x1="208.8" y1="413.6" x2="221.8" y2="413.6" stroke="#1e1e1e" stroke-width="1.1"/>
<line x1="228.9" y1="390.8" x2="241.7" y2="390.8" stroke="#1e1e1e" stroke-width="1.1"/>
<line x1="249.5" y1="413.6" x2="261.5" y2="413.6" stroke="#1e1e1e" stroke-width="1.1"/>
<line x1="307" y1="347.5" x2="307" y2="430.65" stroke="#2a2a2a" stroke-width="1.3"/>
<line x1="306.35" y1="430" x2="387.5" y2="430" stroke="#2a2a2a" stroke-width="1.3"/>
<line x1="304.2" y1="350" x2="307" y2="350" stroke="#2a2a2a" stroke-width="1.1"/>
<text x="301" y="352.35" font-size="8.4" text-anchor="end" fill="#222" textLength="12.33" lengthAdjust="spacingAndGlyphs">200</text>
<line x1="304.2" y1="366.25" x2="307" y2="366.25" stroke="#2a2a2a" stroke-width="1.1"/>
<text x="301" y="368.6" font-size="8.4" text-anchor="end" fill="#222" textLength="12.33" lengthAdjust="spacingAndGlyphs">150</text>
<line x1="304.2" y1="382" x2="307" y2="382" stroke="#2a2a2a" stroke-width="1.1"/>
<text x="301" y="384.35" font-size="8.4" text-anchor="end" fill="#222" textLength="12.33" lengthAdjust="spacingAndGlyphs">100</text>
<line x1="304.2" y1="398" x2="307" y2="398" stroke="#2a2a2a" stroke-width="1.1"/>
<text x="301" y="400.35" font-size="8.4" text-anchor="end" fill="#222" textLength="8.22" lengthAdjust="spacingAndGlyphs">50</text>
<line x1="304.2" y1="413.75" x2="307" y2="413.75" stroke="#2a2a2a" stroke-width="1.1"/>
<text x="301" y="416.1" font-size="8.4" text-anchor="end" fill="#222" textLength="4.11" lengthAdjust="spacingAndGlyphs">0</text>
<line x1="304.2" y1="430" x2="307" y2="430" stroke="#2a2a2a" stroke-width="1.1"/>
<text x="301" y="432.35" font-size="8.4" text-anchor="end" fill="#222" textLength="10.68" lengthAdjust="spacingAndGlyphs">-50</text>
<line x1="317.5" y1="430" x2="317.5" y2="432.8" stroke="#2a2a2a" stroke-width="1.1"/>
<text transform="translate(320.3 438.8) rotate(-45)" x="0" y="0" font-size="8" text-anchor="end" fill="#222" textLength="19.5" lengthAdjust="spacingAndGlyphs">Naive</text>
<line x1="337.5" y1="430" x2="337.5" y2="432.8" stroke="#2a2a2a" stroke-width="1.1"/>
<text transform="translate(340.3 438.8) rotate(-45)" x="0" y="0" font-size="8" text-anchor="end" fill="#222" textLength="17" lengthAdjust="spacingAndGlyphs">UnRx</text>
<line x1="357.2" y1="430" x2="357.2" y2="432.8" stroke="#2a2a2a" stroke-width="1.1"/>
<text transform="translate(360 438.8) rotate(-45)" x="0" y="0" font-size="8" text-anchor="end" fill="#222" textLength="22" lengthAdjust="spacingAndGlyphs"><tspan font-family="Liberation Serif">&#945;</tspan>-IFN<tspan font-family="Liberation Serif">&#947;</tspan></text>
<line x1="377.2" y1="430" x2="377.2" y2="432.8" stroke="#2a2a2a" stroke-width="1.1"/>
<text transform="translate(380 438.8) rotate(-45)" x="0" y="0" font-size="8" text-anchor="end" fill="#222" textLength="16.5" lengthAdjust="spacingAndGlyphs">Ruxo</text>
<text transform="translate(334.45 318.9) scale(0.7895 1)" font-size="8.3" fill="#222" class="tt">GM-CSF</text>
<text transform="translate(283.1 388.2) rotate(-90)" x="0" y="0" font-size="9.2" text-anchor="middle" fill="#222" textLength="26.4" lengthAdjust="spacingAndGlyphs">pg/mL</text>
<line x1="337.5" y1="388.5" x2="337.5" y2="423.2" stroke="#1e1e1e" stroke-width="1"/>
<line x1="334.1" y1="388.5" x2="340.9" y2="388.5" stroke="#1e1e1e" stroke-width="1"/>
<line x1="334.1" y1="423.2" x2="340.9" y2="423.2" stroke="#1e1e1e" stroke-width="1"/>
<line x1="357.2" y1="378.4" x2="357.2" y2="415" stroke="#1e1e1e" stroke-width="1"/>
<line x1="353.8" y1="378.4" x2="360.6" y2="378.4" stroke="#1e1e1e" stroke-width="1"/>
<line x1="353.8" y1="415" x2="360.6" y2="415" stroke="#1e1e1e" stroke-width="1"/>
<circle cx="314.1" cy="413.2" r="1.85" fill="#ab1d3b"/>
<circle cx="315.8" cy="413.2" r="1.85" fill="#ab1d3b"/>
<circle cx="317.5" cy="413.2" r="1.85" fill="#ab1d3b"/>
<circle cx="319.2" cy="413.2" r="1.85" fill="#ab1d3b"/>
<circle cx="320.9" cy="413.2" r="1.85" fill="#ab1d3b"/>
<rect x="335.95" y="369.15" width="3.1" height="3.1" fill="#2a5592"/>
<rect x="331.35" y="411.65" width="3.1" height="3.1" fill="#2a5592"/>
<rect x="333.65" y="411.65" width="3.1" height="3.1" fill="#2a5592"/>
<rect x="335.95" y="411.65" width="3.1" height="3.1" fill="#2a5592"/>
<rect x="338.25" y="411.65" width="3.1" height="3.1" fill="#2a5592"/>
<rect x="340.55" y="411.65" width="3.1" height="3.1" fill="#2a5592"/>
<path d="M357.2 361.9L359.25 365.5L355.15 365.5Z" fill="#6cb24d"/>
<path d="M357.2 383.5L359.25 387.1L355.15 387.1Z" fill="#6cb24d"/>
<path d="M354.6 390.2L356.65 393.8L352.55 393.8Z" fill="#6cb24d"/>
<path d="M360 394.2L362.05 397.8L357.95 397.8Z" fill="#6cb24d"/>
<path d="M352.9 411.5L354.95 415.1L350.85 415.1Z" fill="#6cb24d"/>
<path d="M357.2 412.2L359.25 415.8L355.15 415.8Z" fill="#6cb24d"/>
<path d="M361.5 411.8L363.55 415.4L359.45 415.4Z" fill="#6cb24d"/>
<path d="M373.6 415.2L375.65 411.6L371.55 411.6Z" fill="#6b2b6e"/>
<path d="M375.4 415.2L377.45 411.6L373.35 411.6Z" fill="#6b2b6e"/>
<path d="M377.2 415.2L379.25 411.6L375.15 411.6Z" fill="#6b2b6e"/>
<path d="M379 415.2L381.05 411.6L376.95 411.6Z" fill="#6b2b6e"/>
<path d="M380.8 415.2L382.85 411.6L378.75 411.6Z" fill="#6b2b6e"/>
<line x1="311.9" y1="413.2" x2="323.1" y2="413.2" stroke="#1e1e1e" stroke-width="1.1"/>
<line x1="331.1" y1="405.8" x2="343.9" y2="405.8" stroke="#1e1e1e" stroke-width="1.1"/>
<line x1="350.8" y1="396.8" x2="363.6" y2="396.8" stroke="#1e1e1e" stroke-width="1.1"/>
<line x1="371.4" y1="413.2" x2="383" y2="413.2" stroke="#1e1e1e" stroke-width="1.1"/>
<line x1="434.25" y1="348" x2="434.25" y2="430.65" stroke="#2a2a2a" stroke-width="1.3"/>
<line x1="433.6" y1="430" x2="512.5" y2="430" stroke="#2a2a2a" stroke-width="1.3"/>
<line x1="431.45" y1="350.5" x2="434.25" y2="350.5" stroke="#2a2a2a" stroke-width="1.1"/>
<text x="428.25" y="352.85" font-size="8.4" text-anchor="end" fill="#222" textLength="12.33" lengthAdjust="spacingAndGlyphs">800</text>
<line x1="431.45" y1="366.25" x2="434.25" y2="366.25" stroke="#2a2a2a" stroke-width="1.1"/>
<text x="428.25" y="368.6" font-size="8.4" text-anchor="end" fill="#222" textLength="12.33" lengthAdjust="spacingAndGlyphs">600</text>
<line x1="431.45" y1="382.5" x2="434.25" y2="382.5" stroke="#2a2a2a" stroke-width="1.1"/>
<text x="428.25" y="384.85" font-size="8.4" text-anchor="end" fill="#222" textLength="12.33" lengthAdjust="spacingAndGlyphs">400</text>
<line x1="431.45" y1="398.25" x2="434.25" y2="398.25" stroke="#2a2a2a" stroke-width="1.1"/>
<text x="428.25" y="400.6" font-size="8.4" text-anchor="end" fill="#222" textLength="12.33" lengthAdjust="spacingAndGlyphs">200</text>
<line x1="431.45" y1="414.25" x2="434.25" y2="414.25" stroke="#2a2a2a" stroke-width="1.1"/>
<text x="428.25" y="416.6" font-size="8.4" text-anchor="end" fill="#222" textLength="4.11" lengthAdjust="spacingAndGlyphs">0</text>
<line x1="431.45" y1="430" x2="434.25" y2="430" stroke="#2a2a2a" stroke-width="1.1"/>
<text x="428.25" y="432.35" font-size="8.4" text-anchor="end" fill="#222" textLength="14.8" lengthAdjust="spacingAndGlyphs">-200</text>
<line x1="443.5" y1="430" x2="443.5" y2="432.8" stroke="#2a2a2a" stroke-width="1.1"/>
<text transform="translate(446.3 438.8) rotate(-45)" x="0" y="0" font-size="8" text-anchor="end" fill="#222" textLength="19.5" lengthAdjust="spacingAndGlyphs">Naive</text>
<line x1="463.3" y1="430" x2="463.3" y2="432.8" stroke="#2a2a2a" stroke-width="1.1"/>
<text transform="translate(466.1 438.8) rotate(-45)" x="0" y="0" font-size="8" text-anchor="end" fill="#222" textLength="17" lengthAdjust="spacingAndGlyphs">UnRx</text>
<line x1="482.8" y1="430" x2="482.8" y2="432.8" stroke="#2a2a2a" stroke-width="1.1"/>
<text transform="translate(485.6 438.8) rotate(-45)" x="0" y="0" font-size="8" text-anchor="end" fill="#222" textLength="22" lengthAdjust="spacingAndGlyphs"><tspan font-family="Liberation Serif">&#945;</tspan>-IFN<tspan font-family="Liberation Serif">&#947;</tspan></text>
<line x1="502.9" y1="430" x2="502.9" y2="432.8" stroke="#2a2a2a" stroke-width="1.1"/>
<text transform="translate(505.7 438.8) rotate(-45)" x="0" y="0" font-size="8" text-anchor="end" fill="#222" textLength="16.5" lengthAdjust="spacingAndGlyphs">Ruxo</text>
<text transform="translate(461.45 318.9) scale(0.8948 1)" font-size="8.3" fill="#222" class="tt">MIP-1<tspan font-family="Liberation Serif">&#945;</tspan></text>
<text transform="translate(407.8 388.6) rotate(-90)" x="0" y="0" font-size="9.2" text-anchor="middle" fill="#222" textLength="26.4" lengthAdjust="spacingAndGlyphs">pg/mL</text>
<line x1="441.5" y1="327.5" x2="502.4" y2="327.5" stroke="#505050" stroke-width="1.15"/>
<circle cx="471.95" cy="323.85" r="1.1" fill="#404040"/>
<line x1="441.5" y1="336.5" x2="482.8" y2="336.5" stroke="#505050" stroke-width="1.15"/>
<circle cx="457.8" cy="332.85" r="1.1" fill="#404040"/>
<circle cx="460.7" cy="332.85" r="1.1" fill="#404040"/>
<circle cx="463.6" cy="332.85" r="1.1" fill="#404040"/>
<circle cx="466.5" cy="332.85" r="1.1" fill="#404040"/>
<line x1="464.1" y1="343.5" x2="502.4" y2="343.5" stroke="#505050" stroke-width="1.15"/>
<circle cx="478.9" cy="340.15" r="1.1" fill="#404040"/>
<circle cx="481.8" cy="340.15" r="1.1" fill="#404040"/>
<circle cx="484.7" cy="340.15" r="1.1" fill="#404040"/>
<circle cx="487.6" cy="340.15" r="1.1" fill="#404040"/>
<line x1="441.5" y1="353.5" x2="459.5" y2="353.5" stroke="#505050" stroke-width="1.15"/>
<circle cx="446.15" cy="350.05" r="1.1" fill="#404040"/>
<circle cx="449.05" cy="350.05" r="1.1" fill="#404040"/>
<circle cx="451.95" cy="350.05" r="1.1" fill="#404040"/>
<circle cx="454.85" cy="350.05" r="1.1" fill="#404040"/>
<line x1="462.8" y1="354.5" x2="481.2" y2="354.5" stroke="#505050" stroke-width="1.15"/>
<circle cx="467.65" cy="350.45" r="1.1" fill="#404040"/>
<circle cx="470.55" cy="350.45" r="1.1" fill="#404040"/>
<circle cx="473.45" cy="350.45" r="1.1" fill="#404040"/>
<circle cx="476.35" cy="350.45" r="1.1" fill="#404040"/>
<line x1="484.9" y1="383.5" x2="502.9" y2="383.5" stroke="#505050" stroke-width="1.15"/>
<circle cx="493.9" cy="379.75" r="1.1" fill="#404040"/>
<line x1="443.5" y1="409.2" x2="443.5" y2="414.5" stroke="#1e1e1e" stroke-width="1"/>
<line x1="440.1" y1="409.2" x2="446.9" y2="409.2" stroke="#1e1e1e" stroke-width="1"/>
<line x1="440.1" y1="414.5" x2="446.9" y2="414.5" stroke="#1e1e1e" stroke-width="1"/>
<line x1="463.3" y1="363.9" x2="463.3" y2="382.2" stroke="#1e1e1e" stroke-width="1"/>
<line x1="459.9" y1="363.9" x2="466.7" y2="363.9" stroke="#1e1e1e" stroke-width="1"/>
<line x1="459.9" y1="382.2" x2="466.7" y2="382.2" stroke="#1e1e1e" stroke-width="1"/>
<line x1="482.8" y1="390.5" x2="482.8" y2="393.5" stroke="#1e1e1e" stroke-width="1"/>
<line x1="479.4" y1="390.5" x2="486.2" y2="390.5" stroke="#1e1e1e" stroke-width="1"/>
<line x1="479.4" y1="393.5" x2="486.2" y2="393.5" stroke="#1e1e1e" stroke-width="1"/>
<line x1="502.9" y1="395" x2="502.9" y2="408.4" stroke="#1e1e1e" stroke-width="1"/>
<line x1="499.5" y1="395" x2="506.3" y2="395" stroke="#1e1e1e" stroke-width="1"/>
<line x1="499.5" y1="408.4" x2="506.3" y2="408.4" stroke="#1e1e1e" stroke-width="1"/>
<circle cx="443.5" cy="405.4" r="1.85" fill="#ab1d3b"/>
<circle cx="439" cy="413.5" r="1.85" fill="#ab1d3b"/>
<circle cx="441.3" cy="414.5" r="1.85" fill="#ab1d3b"/>
<circle cx="443.5" cy="414.5" r="1.85" fill="#ab1d3b"/>
<circle cx="445.7" cy="414.5" r="1.85" fill="#ab1d3b"/>
<circle cx="448" cy="413.5" r="1.85" fill="#ab1d3b"/>
<rect x="461.75" y="358.05" width="3.1" height="3.1" fill="#2a5592"/>
<rect x="459.35" y="366.75" width="3.1" height="3.1" fill="#2a5592"/>
<rect x="464.55" y="367.25" width="3.1" height="3.1" fill="#2a5592"/>
<rect x="457.65" y="376.55" width="3.1" height="3.1" fill="#2a5592"/>
<rect x="465.85" y="377.35" width="3.1" height="3.1" fill="#2a5592"/>
<rect x="461.75" y="381.45" width="3.1" height="3.1" fill="#2a5592"/>
<path d="M478.4 389.2L480.45 392.8L476.35 392.8Z" fill="#6cb24d"/>
<path d="M487.7 386.7L489.75 390.3L485.65 390.3Z" fill="#6cb24d"/>
<path d="M482.8 388.6L484.85 392.2L480.75 392.2Z" fill="#6cb24d"/>
<path d="M480 391.6L482.05 395.2L477.95 395.2Z" fill="#6cb24d"/>
<path d="M485.4 390.8L487.45 394.4L483.35 394.4Z" fill="#6cb24d"/>
<path d="M481.6 394.1L483.65 397.7L479.55 397.7Z" fill="#6cb24d"/>
<path d="M479 392.6L481.05 396.2L476.95 396.2Z" fill="#6cb24d"/>
<path d="M502.9 392.4L504.95 388.8L500.85 388.8Z" fill="#6b2b6e"/>
<path d="M497.5 400.6L499.55 397L495.45 397Z" fill="#6b2b6e"/>
<path d="M507.8 400.2L509.85 396.6L505.75 396.6Z" fill="#6b2b6e"/>
<path d="M502.9 402.3L504.95 398.7L500.85 398.7Z" fill="#6b2b6e"/>
<path d="M500.5 404.7L502.55 401.1L498.45 401.1Z" fill="#6b2b6e"/>
<path d="M505.4 407.1L507.45 403.5L503.35 403.5Z" fill="#6b2b6e"/>
<path d="M502.9 415.6L504.95 412L500.85 412Z" fill="#6b2b6e"/>
<line x1="437.1" y1="413.3" x2="449.9" y2="413.3" stroke="#1e1e1e" stroke-width="1.1"/>
<line x1="456.9" y1="373.2" x2="469.7" y2="373.2" stroke="#1e1e1e" stroke-width="1.1"/>
<line x1="476.4" y1="392" x2="489.2" y2="392" stroke="#1e1e1e" stroke-width="1.1"/>
<line x1="496.5" y1="401.3" x2="509.3" y2="401.3" stroke="#1e1e1e" stroke-width="1.1"/>
<line x1="49.3" y1="493" x2="49.3" y2="576.35" stroke="#2a2a2a" stroke-width="1.3"/>
<line x1="48.65" y1="575.7" x2="128.4" y2="575.7" stroke="#2a2a2a" stroke-width="1.3"/>
<line x1="46.5" y1="496.3" x2="49.3" y2="496.3" stroke="#2a2a2a" stroke-width="1.1"/>
<text x="43.3" y="498.65" font-size="8.4" text-anchor="end" fill="#222" textLength="8.22" lengthAdjust="spacingAndGlyphs">80</text>
<line x1="46.5" y1="516" x2="49.3" y2="516" stroke="#2a2a2a" stroke-width="1.1"/>
<text x="43.3" y="518.35" font-size="8.4" text-anchor="end" fill="#222" textLength="8.22" lengthAdjust="spacingAndGlyphs">60</text>
<line x1="46.5" y1="536.2" x2="49.3" y2="536.2" stroke="#2a2a2a" stroke-width="1.1"/>
<text x="43.3" y="538.55" font-size="8.4" text-anchor="end" fill="#222" textLength="8.22" lengthAdjust="spacingAndGlyphs">40</text>
<line x1="46.5" y1="555.8" x2="49.3" y2="555.8" stroke="#2a2a2a" stroke-width="1.1"/>
<text x="43.3" y="558.15" font-size="8.4" text-anchor="end" fill="#222" textLength="8.22" lengthAdjust="spacingAndGlyphs">20</text>
<line x1="46.5" y1="575.7" x2="49.3" y2="575.7" stroke="#2a2a2a" stroke-width="1.1"/>
<text x="43.3" y="578.05" font-size="8.4" text-anchor="end" fill="#222" textLength="4.11" lengthAdjust="spacingAndGlyphs">0</text>
<line x1="59.2" y1="575.7" x2="59.2" y2="578.5" stroke="#2a2a2a" stroke-width="1.1"/>
<text transform="translate(62 584.5) rotate(-45)" x="0" y="0" font-size="8" text-anchor="end" fill="#222" textLength="19.5" lengthAdjust="spacingAndGlyphs">Naive</text>
<line x1="79.4" y1="575.7" x2="79.4" y2="578.5" stroke="#2a2a2a" stroke-width="1.1"/>
<text transform="translate(82.2 584.5) rotate(-45)" x="0" y="0" font-size="8" text-anchor="end" fill="#222" textLength="17" lengthAdjust="spacingAndGlyphs">UnRx</text>
<line x1="99.6" y1="575.7" x2="99.6" y2="578.5" stroke="#2a2a2a" stroke-width="1.1"/>
<text transform="translate(102.4 584.5) rotate(-45)" x="0" y="0" font-size="8" text-anchor="end" fill="#222" textLength="22" lengthAdjust="spacingAndGlyphs"><tspan font-family="Liberation Serif">&#945;</tspan>-IFN<tspan font-family="Liberation Serif">&#947;</tspan></text>
<line x1="118.5" y1="575.7" x2="118.5" y2="578.5" stroke="#2a2a2a" stroke-width="1.1"/>
<text transform="translate(121.3 584.5) rotate(-45)" x="0" y="0" font-size="8" text-anchor="end" fill="#222" textLength="16.5" lengthAdjust="spacingAndGlyphs">Ruxo</text>
<text transform="translate(28.3 534) rotate(-90)" x="0" y="0" font-size="9.2" text-anchor="middle" fill="#222" textLength="42.1" lengthAdjust="spacingAndGlyphs">Frequency</text>
<line x1="61.4" y1="481.5" x2="119.3" y2="481.5" stroke="#505050" stroke-width="1.15"/>
<circle cx="86" cy="478.25" r="1.1" fill="#404040"/>
<circle cx="88.9" cy="478.25" r="1.1" fill="#404040"/>
<circle cx="91.8" cy="478.25" r="1.1" fill="#404040"/>
<circle cx="94.7" cy="478.25" r="1.1" fill="#404040"/>
<line x1="61.4" y1="491.5" x2="99.1" y2="491.5" stroke="#505050" stroke-width="1.15"/>
<circle cx="75.9" cy="487.65" r="1.1" fill="#404040"/>
<circle cx="78.8" cy="487.65" r="1.1" fill="#404040"/>
<circle cx="81.7" cy="487.65" r="1.1" fill="#404040"/>
<circle cx="84.6" cy="487.65" r="1.1" fill="#404040"/>
<line x1="61.1" y1="501.5" x2="78" y2="501.5" stroke="#505050" stroke-width="1.15"/>
<circle cx="65.2" cy="497.65" r="1.1" fill="#404040"/>
<circle cx="68.1" cy="497.65" r="1.1" fill="#404040"/>
<circle cx="71" cy="497.65" r="1.1" fill="#404040"/>
<circle cx="73.9" cy="497.65" r="1.1" fill="#404040"/>
<line x1="100.2" y1="499.5" x2="119.3" y2="499.5" stroke="#505050" stroke-width="1.15"/>
<circle cx="108.3" cy="495.45" r="1.1" fill="#404040"/>
<circle cx="111.2" cy="495.45" r="1.1" fill="#404040"/>
<line x1="59.2" y1="545" x2="59.2" y2="554.2" stroke="#1e1e1e" stroke-width="1"/>
<line x1="55.8" y1="545" x2="62.6" y2="545" stroke="#1e1e1e" stroke-width="1"/>
<line x1="55.8" y1="554.2" x2="62.6" y2="554.2" stroke="#1e1e1e" stroke-width="1"/>
<line x1="79.4" y1="504.5" x2="79.4" y2="526.8" stroke="#1e1e1e" stroke-width="1"/>
<line x1="76" y1="504.5" x2="82.8" y2="504.5" stroke="#1e1e1e" stroke-width="1"/>
<line x1="76" y1="526.8" x2="82.8" y2="526.8" stroke="#1e1e1e" stroke-width="1"/>
<line x1="99.6" y1="505.5" x2="99.6" y2="512.7" stroke="#1e1e1e" stroke-width="1"/>
<line x1="96.2" y1="505.5" x2="103" y2="505.5" stroke="#1e1e1e" stroke-width="1"/>
<line x1="96.2" y1="512.7" x2="103" y2="512.7" stroke="#1e1e1e" stroke-width="1"/>
<line x1="118.5" y1="516.8" x2="118.5" y2="525.8" stroke="#1e1e1e" stroke-width="1"/>
<line x1="115.1" y1="516.8" x2="121.9" y2="516.8" stroke="#1e1e1e" stroke-width="1"/>
<line x1="115.1" y1="525.8" x2="121.9" y2="525.8" stroke="#1e1e1e" stroke-width="1"/>
<circle cx="61.5" cy="542.7" r="1.85" fill="#ab1d3b"/>
<circle cx="54.3" cy="545.8" r="1.85" fill="#ab1d3b"/>
<circle cx="56.9" cy="550.1" r="1.85" fill="#ab1d3b"/>
<circle cx="64.2" cy="551.2" r="1.85" fill="#ab1d3b"/>
<circle cx="61.5" cy="554.7" r="1.85" fill="#ab1d3b"/>
<circle cx="56.5" cy="557.3" r="1.85" fill="#ab1d3b"/>
<rect x="71.85" y="506.95" width="3.1" height="3.1" fill="#2a5592"/>
<rect x="75.85" y="509.25" width="3.1" height="3.1" fill="#2a5592"/>
<rect x="79.25" y="508.35" width="3.1" height="3.1" fill="#2a5592"/>
<rect x="82.65" y="506.95" width="3.1" height="3.1" fill="#2a5592"/>
<rect x="77.35" y="517.25" width="3.1" height="3.1" fill="#2a5592"/>
<rect x="77.35" y="534.95" width="3.1" height="3.1" fill="#2a5592"/>
<path d="M98.9 501.9L100.95 505.5L96.85 505.5Z" fill="#6cb24d"/>
<path d="M95.4 506.5L97.45 510.1L93.35 510.1Z" fill="#6cb24d"/>
<path d="M98.9 506.5L100.95 510.1L96.85 510.1Z" fill="#6cb24d"/>
<path d="M103.8 506.5L105.85 510.1L101.75 510.1Z" fill="#6cb24d"/>
<path d="M96.2 512.7L98.25 516.3L94.15 516.3Z" fill="#6cb24d"/>
<path d="M101.5 512.2L103.55 515.8L99.45 515.8Z" fill="#6cb24d"/>
<path d="M118.9 516.7L120.95 513.1L116.85 513.1Z" fill="#6b2b6e"/>
<path d="M114.3 518.8L116.35 515.2L112.25 515.2Z" fill="#6b2b6e"/>
<path d="M123.5 518.8L125.55 515.2L121.45 515.2Z" fill="#6b2b6e"/>
<path d="M118.9 521.5L120.95 517.9L116.85 517.9Z" fill="#6b2b6e"/>
<path d="M113.1 523.9L115.15 520.3L111.05 520.3Z" fill="#6b2b6e"/>
<path d="M125.1 523.9L127.15 520.3L123.05 520.3Z" fill="#6b2b6e"/>
<path d="M116.2 526.2L118.25 522.6L114.15 522.6Z" fill="#6b2b6e"/>
<path d="M121.5 526.2L123.55 522.6L119.45 522.6Z" fill="#6b2b6e"/>
<path d="M117.7 528.2L119.75 524.6L115.65 524.6Z" fill="#6b2b6e"/>
<line x1="52.8" y1="550.1" x2="65.6" y2="550.1" stroke="#1e1e1e" stroke-width="1.1"/>
<line x1="73" y1="515.3" x2="85.8" y2="515.3" stroke="#1e1e1e" stroke-width="1.1"/>
<line x1="93.2" y1="510.4" x2="106" y2="510.4" stroke="#1e1e1e" stroke-width="1.1"/>
<line x1="112.1" y1="521.2" x2="124.9" y2="521.2" stroke="#1e1e1e" stroke-width="1.1"/>
<line x1="185.2" y1="493" x2="185.2" y2="576.35" stroke="#2a2a2a" stroke-width="1.3"/>
<line x1="184.55" y1="575.7" x2="261.4" y2="575.7" stroke="#2a2a2a" stroke-width="1.3"/>
<line x1="182.4" y1="495.8" x2="185.2" y2="495.8" stroke="#2a2a2a" stroke-width="1.1"/>
<text x="179.2" y="498.15" font-size="8.4" text-anchor="end" fill="#222" textLength="4.11" lengthAdjust="spacingAndGlyphs">3</text>
<line x1="182.4" y1="522.2" x2="185.2" y2="522.2" stroke="#2a2a2a" stroke-width="1.1"/>
<text x="179.2" y="524.55" font-size="8.4" text-anchor="end" fill="#222" textLength="4.11" lengthAdjust="spacingAndGlyphs">2</text>
<line x1="182.4" y1="549.1" x2="185.2" y2="549.1" stroke="#2a2a2a" stroke-width="1.1"/>
<text x="179.2" y="551.45" font-size="8.4" text-anchor="end" fill="#222" textLength="4.11" lengthAdjust="spacingAndGlyphs">1</text>
<line x1="182.4" y1="575.7" x2="185.2" y2="575.7" stroke="#2a2a2a" stroke-width="1.1"/>
<text x="179.2" y="578.05" font-size="8.4" text-anchor="end" fill="#222" textLength="4.11" lengthAdjust="spacingAndGlyphs">0</text>
<line x1="195.3" y1="575.7" x2="195.3" y2="578.5" stroke="#2a2a2a" stroke-width="1.1"/>
<text transform="translate(198.1 584.5) rotate(-45)" x="0" y="0" font-size="8" text-anchor="end" fill="#222" textLength="19.5" lengthAdjust="spacingAndGlyphs">Naive</text>
<line x1="215.3" y1="575.7" x2="215.3" y2="578.5" stroke="#2a2a2a" stroke-width="1.1"/>
<text transform="translate(218.1 584.5) rotate(-45)" x="0" y="0" font-size="8" text-anchor="end" fill="#222" textLength="17" lengthAdjust="spacingAndGlyphs">UnRx</text>
<line x1="235.1" y1="575.7" x2="235.1" y2="578.5" stroke="#2a2a2a" stroke-width="1.1"/>
<text transform="translate(237.9 584.5) rotate(-45)" x="0" y="0" font-size="8" text-anchor="end" fill="#222" textLength="22" lengthAdjust="spacingAndGlyphs"><tspan font-family="Liberation Serif">&#945;</tspan>-IFN<tspan font-family="Liberation Serif">&#947;</tspan></text>
<line x1="255" y1="575.7" x2="255" y2="578.5" stroke="#2a2a2a" stroke-width="1.1"/>
<text transform="translate(257.8 584.5) rotate(-45)" x="0" y="0" font-size="8" text-anchor="end" fill="#222" textLength="16.5" lengthAdjust="spacingAndGlyphs">Ruxo</text>
<text transform="translate(169.7 534.2) rotate(-90)" x="0" y="0" font-size="9.2" text-anchor="middle" fill="#222" textLength="75.9" lengthAdjust="spacingAndGlyphs">Cell number (x10<tspan font-size="6" dy="-3.4">6</tspan><tspan dy="3.4">)</tspan></text>
<line x1="194.6" y1="496.5" x2="234.5" y2="496.5" stroke="#505050" stroke-width="1.15"/>
<circle cx="214.55" cy="492.85" r="1.1" fill="#404040"/>
<line x1="236.3" y1="504.5" x2="254.7" y2="504.5" stroke="#505050" stroke-width="1.15"/>
<circle cx="245.5" cy="501.35" r="1.1" fill="#404040"/>
<line x1="195.3" y1="566.2" x2="195.3" y2="572.5" stroke="#1e1e1e" stroke-width="1"/>
<line x1="191.9" y1="566.2" x2="198.7" y2="566.2" stroke="#1e1e1e" stroke-width="1"/>
<line x1="191.9" y1="572.5" x2="198.7" y2="572.5" stroke="#1e1e1e" stroke-width="1"/>
<line x1="215.3" y1="539.5" x2="215.3" y2="566.7" stroke="#1e1e1e" stroke-width="1"/>
<line x1="211.9" y1="539.5" x2="218.7" y2="539.5" stroke="#1e1e1e" stroke-width="1"/>
<line x1="211.9" y1="566.7" x2="218.7" y2="566.7" stroke="#1e1e1e" stroke-width="1"/>
<line x1="235.1" y1="530.1" x2="235.1" y2="564" stroke="#1e1e1e" stroke-width="1"/>
<line x1="231.7" y1="530.1" x2="238.5" y2="530.1" stroke="#1e1e1e" stroke-width="1"/>
<line x1="231.7" y1="564" x2="238.5" y2="564" stroke="#1e1e1e" stroke-width="1"/>
<line x1="255" y1="556.7" x2="255" y2="571.8" stroke="#1e1e1e" stroke-width="1"/>
<line x1="251.6" y1="556.7" x2="258.4" y2="556.7" stroke="#1e1e1e" stroke-width="1"/>
<line x1="251.6" y1="571.8" x2="258.4" y2="571.8" stroke="#1e1e1e" stroke-width="1"/>
<circle cx="192.7" cy="563.9" r="1.85" fill="#ab1d3b"/>
<circle cx="197.6" cy="565.8" r="1.85" fill="#ab1d3b"/>
<circle cx="190.1" cy="571.5" r="1.85" fill="#ab1d3b"/>
<circle cx="193.6" cy="572.8" r="1.85" fill="#ab1d3b"/>
<circle cx="197" cy="571.5" r="1.85" fill="#ab1d3b"/>
<circle cx="199.6" cy="569.5" r="1.85" fill="#ab1d3b"/>
<rect x="213.75" y="527.15" width="3.1" height="3.1" fill="#2a5592"/>
<rect x="211.15" y="548.45" width="3.1" height="3.1" fill="#2a5592"/>
<rect x="215.75" y="549.55" width="3.1" height="3.1" fill="#2a5592"/>
<rect x="213.75" y="555.85" width="3.1" height="3.1" fill="#2a5592"/>
<rect x="213.75" y="560.95" width="3.1" height="3.1" fill="#2a5592"/>
<rect x="213.75" y="567.15" width="3.1" height="3.1" fill="#2a5592"/>
<path d="M235.1 510.7L237.15 514.3L233.05 514.3Z" fill="#6cb24d"/>
<path d="M235.1 534.5L237.15 538.1L233.05 538.1Z" fill="#6cb24d"/>
<path d="M231.3 553.8L233.35 557.4L229.25 557.4Z" fill="#6cb24d"/>
<path d="M238.7 554.3L240.75 557.9L236.65 557.9Z" fill="#6cb24d"/>
<path d="M236.6 552L238.65 555.6L234.55 555.6Z" fill="#6cb24d"/>
<path d="M235.1 558.9L237.15 562.5L233.05 562.5Z" fill="#6cb24d"/>
<path d="M253.4 551L255.45 547.4L251.35 547.4Z" fill="#6b2b6e"/>
<path d="M253.4 557.2L255.45 553.6L251.35 553.6Z" fill="#6b2b6e"/>
<path d="M251.9 569.1L253.95 565.5L249.85 565.5Z" fill="#6b2b6e"/>
<path d="M255.8 568.7L257.85 565.1L253.75 565.1Z" fill="#6b2b6e"/>
<path d="M254 570.5L256.05 566.9L251.95 566.9Z" fill="#6b2b6e"/>
<path d="M258 568L260.05 564.4L255.95 564.4Z" fill="#6b2b6e"/>
<line x1="189.5" y1="569.1" x2="201.1" y2="569.1" stroke="#1e1e1e" stroke-width="1.1"/>
<line x1="208.9" y1="553.2" x2="221.7" y2="553.2" stroke="#1e1e1e" stroke-width="1.1"/>
<line x1="228.7" y1="546.9" x2="241.5" y2="546.9" stroke="#1e1e1e" stroke-width="1.1"/>
<line x1="248.6" y1="564.5" x2="261.4" y2="564.5" stroke="#1e1e1e" stroke-width="1.1"/>
<line x1="307.5" y1="493.6" x2="307.5" y2="576.15" stroke="#2a2a2a" stroke-width="1.1"/>
<line x1="306.95" y1="575.6" x2="391" y2="575.6" stroke="#2a2a2a" stroke-width="1.1"/>
<line x1="304.7" y1="501.3" x2="307.5" y2="501.3" stroke="#2a2a2a" stroke-width="1.1"/>
<text x="301.5" y="503.65" font-size="8.4" text-anchor="end" fill="#222" textLength="12.33" lengthAdjust="spacingAndGlyphs">100</text>
<line x1="304.7" y1="538.4" x2="307.5" y2="538.4" stroke="#2a2a2a" stroke-width="1.1"/>
<text x="301.5" y="540.75" font-size="8.4" text-anchor="end" fill="#222" textLength="8.22" lengthAdjust="spacingAndGlyphs">50</text>
<line x1="304.7" y1="575.6" x2="307.5" y2="575.6" stroke="#2a2a2a" stroke-width="1.1"/>
<text x="301.5" y="577.95" font-size="8.4" text-anchor="end" fill="#222" textLength="4.11" lengthAdjust="spacingAndGlyphs">0</text>
<line x1="307.5" y1="575.6" x2="307.5" y2="578.4" stroke="#2a2a2a" stroke-width="1.1"/>
<text x="307.5" y="588.8" font-size="7.3" text-anchor="middle" fill="#222">0</text>
<line x1="328.1" y1="575.6" x2="328.1" y2="578.4" stroke="#2a2a2a" stroke-width="1.1"/>
<text x="328.1" y="588.8" font-size="7.3" text-anchor="middle" fill="#222">10</text>
<line x1="348.7" y1="575.6" x2="348.7" y2="578.4" stroke="#2a2a2a" stroke-width="1.1"/>
<text x="348.7" y="588.8" font-size="7.3" text-anchor="middle" fill="#222">20</text>
<line x1="369.3" y1="575.6" x2="369.3" y2="578.4" stroke="#2a2a2a" stroke-width="1.1"/>
<text x="369.3" y="588.8" font-size="7.3" text-anchor="middle" fill="#222">30</text>
<line x1="389.9" y1="575.6" x2="389.9" y2="578.4" stroke="#2a2a2a" stroke-width="1.1"/>
<text x="389.9" y="588.8" font-size="7.3" text-anchor="middle" fill="#222">40</text>
<text x="350.3" y="601.3" font-size="9.2" text-anchor="middle" fill="#222" textLength="45.5" lengthAdjust="spacingAndGlyphs">Time (days)</text>
<text transform="translate(283.5 534.7) rotate(-90)" x="0" y="0" font-size="9.2" text-anchor="middle" fill="#222" textLength="64" lengthAdjust="spacingAndGlyphs">Percent survival</text>
<path d="M307.5 499.2H348.4V511.6H350.5V523H361.4V536H379.6" fill="none" stroke="#7dbb5a" stroke-width="1.15"/>
<path d="M307.5 500.8H342.4V525.4H344.6V550.7H346.6V575.6" fill="none" stroke="#3f63a0" stroke-width="1.1"/>
<path d="M307.5 497.6H352.8V505.6H361.4V513.4H379.6" fill="none" stroke="#3f7c5e" stroke-width="1.15"/>
<path d="M307.5 498.0H334.5V515H338.4V523H344.6V531H361V539.7H379.6" fill="none" stroke="#e7a446" stroke-width="1.15" stroke-opacity="0.85"/>
<path d="M307.5 499.3H375.6V512.1H379.6" fill="none" stroke="#7d4f88" stroke-width="1.1"/>
<path d="M307.5 500.8H379.6M379.6 499.3V502.3" fill="none" stroke="#bb2d47" stroke-width="1.05"/>
<line x1="313.8" y1="570.8" x2="313.8" y2="575.6" stroke="#2a2a2a" stroke-width="1"/>
<line x1="325" y1="570.8" x2="325" y2="575.6" stroke="#2a2a2a" stroke-width="1"/>
<text x="311.3" y="567.4" font-size="7" text-anchor="start" fill="#222" textLength="14.2" lengthAdjust="spacingAndGlyphs">Start</text>
<text x="327" y="567.4" font-size="7" text-anchor="start" fill="#222" textLength="14.8" lengthAdjust="spacingAndGlyphs">Stop</text>
<text x="350.9" y="564.3" font-size="7.3" text-anchor="start" fill="#222" textLength="10.1" lengthAdjust="spacingAndGlyphs">0/3</text>
<text x="381.8" y="499.9" font-size="7.3" text-anchor="start" fill="#222" textLength="10.3" lengthAdjust="spacingAndGlyphs">6/6</text>
<text x="381.8" y="509.9" font-size="7.3" text-anchor="start" fill="#222" textLength="10.3" lengthAdjust="spacingAndGlyphs">5/6</text>
<text x="381.8" y="522" font-size="7.3" text-anchor="start" fill="#222" textLength="10.3" lengthAdjust="spacingAndGlyphs">7/9</text>
<text x="381.8" y="537.1" font-size="7.3" text-anchor="start" fill="#222" textLength="10.3" lengthAdjust="spacingAndGlyphs">3/6</text>
<text x="381.8" y="548.3" font-size="7.3" text-anchor="start" fill="#222" textLength="10.3" lengthAdjust="spacingAndGlyphs">4/9</text>
<line x1="397.2" y1="497.4" x2="403.4" y2="497.4" stroke="#ab1d3b" stroke-width="1.3"/>
<text transform="translate(406.5 499.5) scale(0.8464 1)" font-size="8" fill="#222">Naive</text>
<line x1="397.2" y1="508.4" x2="403.4" y2="508.4" stroke="#2a5592" stroke-width="1.3"/>
<text transform="translate(406.5 510.8) scale(0.8050 1)" font-size="8" fill="#222">UnRx</text>
<line x1="397.2" y1="519.4" x2="403.4" y2="519.4" stroke="#6b2b6e" stroke-width="1.3"/>
<text transform="translate(406.5 521.7) scale(0.8137 1)" font-size="8" fill="#222">Ruxo</text>
<line x1="397.2" y1="531.1" x2="403.4" y2="531.1" stroke="#7dbb5a" stroke-width="1.3"/>
<text transform="translate(406.5 534) scale(0.8320 1)" font-size="8" fill="#222"><tspan font-family="Liberation Serif">&#945;</tspan>-IFN<tspan font-family="Liberation Serif">&#947;</tspan></text>
<line x1="397.2" y1="543" x2="403.4" y2="543" stroke="#e7a446" stroke-width="1.3"/>
<text transform="translate(406.5 545.5) scale(0.8926 1)" font-size="8" fill="#222"><tspan font-family="Liberation Serif">&#945;</tspan>-Neut</text>
<line x1="397.2" y1="554.8" x2="403.4" y2="554.8" stroke="#3f7c5e" stroke-width="1.3"/>
<text transform="translate(406.5 556.7) scale(0.8786 1)" font-size="8" fill="#222"><tspan font-family="Liberation Serif">&#945;</tspan>-IFN<tspan font-family="Liberation Serif">&#947;</tspan>+<tspan font-family="Liberation Serif">&#945;</tspan>-Neut</text>
<rect x="0" y="0" width="520" height="1" fill="#111"/>
<rect x="0" y="0" width="1" height="611" fill="#111"/>
<rect x="518.6" y="0" width="1.4" height="611" fill="#4a4a4a"/>
<rect x="0" y="609.6" width="520" height="1.4" fill="#4a4a4a"/>
</svg></body></html>
